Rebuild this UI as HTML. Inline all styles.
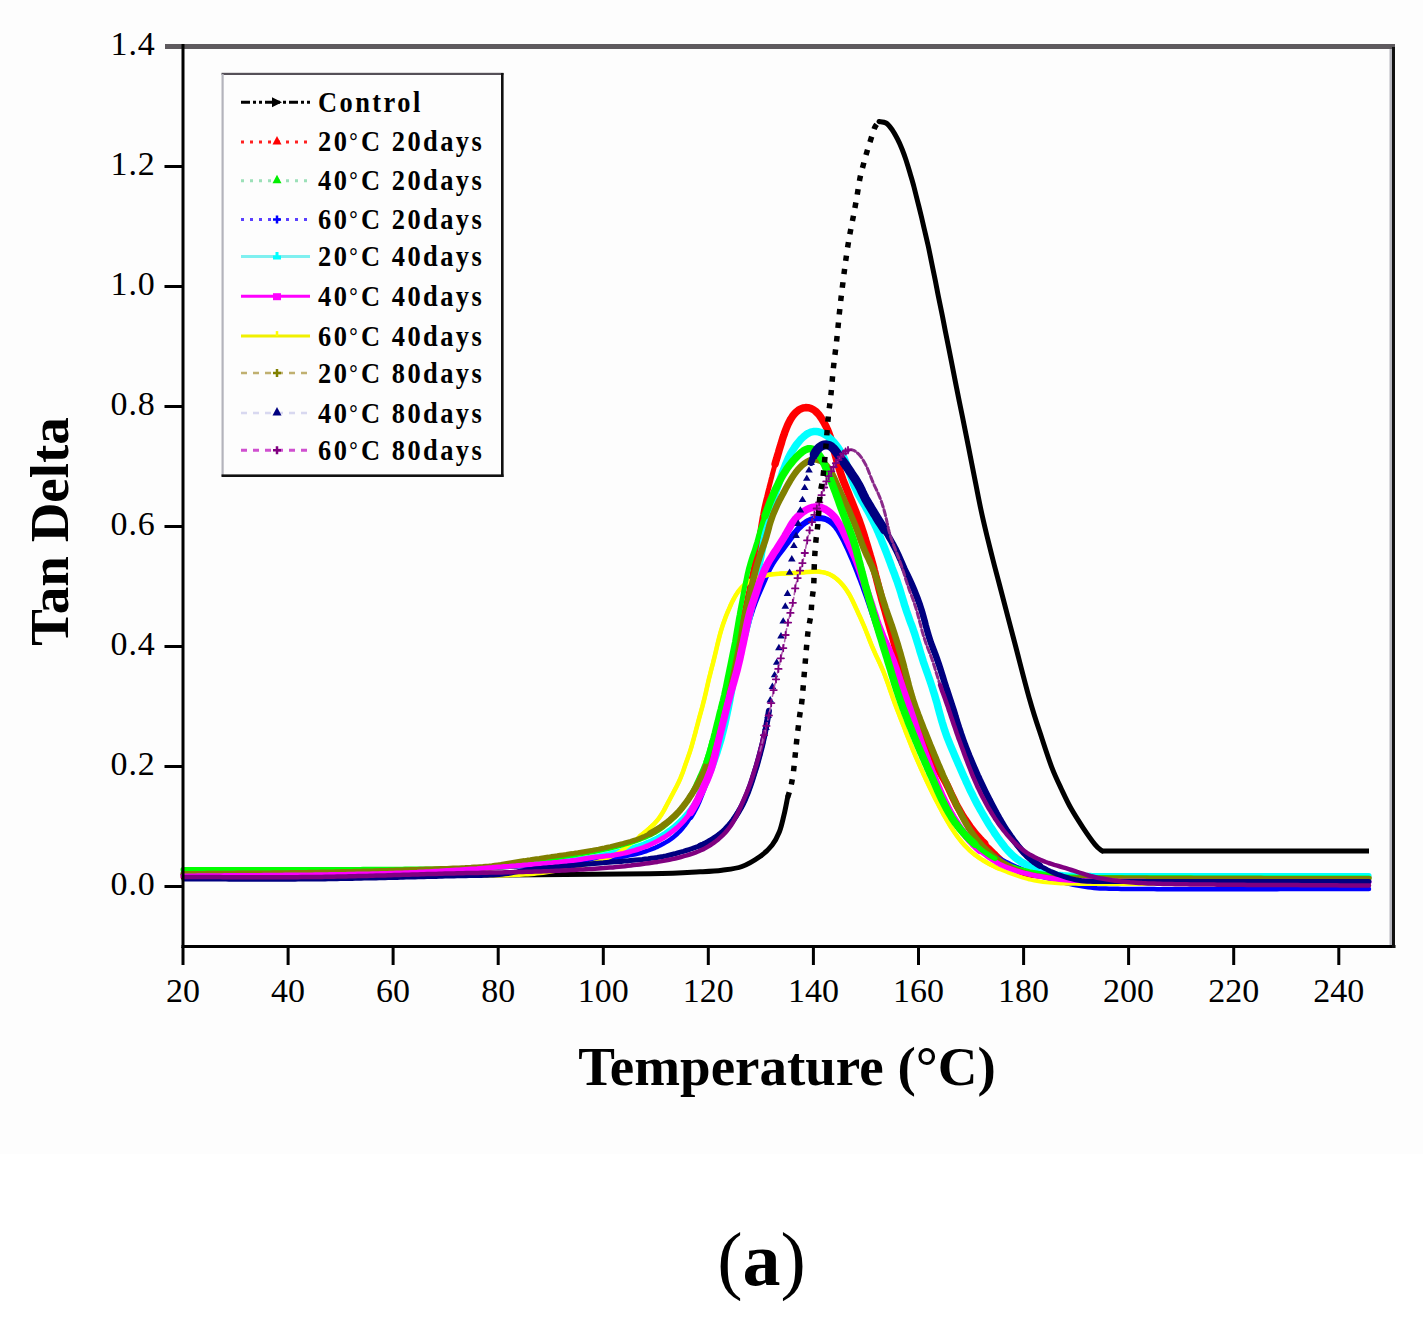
<!DOCTYPE html><html><head><meta charset="utf-8"><style>html,body{margin:0;padding:0;background:#fff}svg{display:block}</style></head><body>
<svg width="1423" height="1335" viewBox="0 0 1423 1335">
<rect width="1423" height="1335" fill="#fff"/>
<rect x="0" y="0" width="1423" height="1154" fill="#fdfdfd"/>

<g fill="none" stroke-linejoin="round" stroke-linecap="round" stroke-width="5.0">
<path d="M183.0,875.0 C235.8,875.0 422.2,875.2 500.0,875.0 C577.8,874.8 616.7,874.3 650.0,873.8 C683.3,873.3 688.0,872.4 700.0,871.8 C712.0,871.2 715.0,871.1 722.0,870.2 C729.0,869.3 735.7,868.8 742.0,866.5 C748.3,864.2 755.0,860.0 760.0,856.5 C765.0,853.0 768.8,849.4 772.0,845.3 C775.2,841.2 777.4,836.8 779.4,831.8 C781.4,826.8 782.5,821.1 783.9,815.4 C785.3,809.7 787.0,800.4 787.6,797.4" stroke="#000" stroke-width="5"/>
<polyline points="183.0,877.0 186.0,877.0 189.0,876.9 192.0,876.9 195.0,876.8 198.0,876.8 201.0,876.7 204.0,876.7 207.0,876.7 210.0,876.6 213.0,876.6 216.0,876.5 219.0,876.5 222.0,876.5 225.0,876.4 228.0,876.4 231.0,876.4 234.0,876.3 237.0,876.3 240.0,876.2 243.0,876.2 246.0,876.2 249.0,876.1 252.0,876.1 255.0,876.0 258.0,876.0 261.0,876.0 264.0,875.9 267.0,875.9 270.0,875.8 273.0,875.8 276.0,875.8 279.0,875.7 282.0,875.7 285.0,875.6 288.0,875.6 291.0,875.5 294.0,875.5 297.0,875.5 300.0,875.4 303.0,875.4 306.0,875.3 309.0,875.3 312.0,875.2 315.0,875.2 318.0,875.1 321.0,875.0 324.0,875.0 327.0,874.9 330.0,874.9 333.0,874.8 336.0,874.8 339.0,874.7 342.0,874.6 345.0,874.6 348.0,874.5 351.0,874.4 354.0,874.4 357.0,874.3 360.0,874.2 363.0,874.1 366.0,874.1 369.0,874.0 372.0,873.9 375.0,873.8 378.0,873.7 381.0,873.6 384.0,873.5 387.0,873.4 390.0,873.3 393.0,873.2 396.0,873.1 399.0,873.0 402.0,872.9 405.0,872.8 408.0,872.6 411.0,872.5 414.0,872.4 417.0,872.2 420.0,872.1 423.0,872.0 426.0,871.8 429.0,871.7 432.0,871.5 435.0,871.3 438.0,871.2 441.0,871.0 444.0,870.8 447.0,870.7 450.0,870.5 453.0,870.3 456.0,870.1 459.0,869.9 461.9,869.8 464.9,869.6 467.9,869.4 470.9,869.2 473.9,869.0 476.9,868.8 479.9,868.6 482.9,868.4 485.9,868.1 488.9,867.9 491.9,867.7 494.9,867.5 497.9,867.3 500.9,867.0 503.9,866.8 506.8,866.6 509.8,866.3 512.8,866.1 515.8,865.9 518.8,865.6 521.8,865.4 524.8,865.1 527.8,864.9 530.8,864.6 533.8,864.4 536.8,864.1 539.7,863.8 542.7,863.6 545.7,863.3 548.7,863.0 551.7,862.8 554.7,862.5 557.7,862.2 560.7,861.9 563.6,861.6 566.6,861.3 569.6,861.0 572.6,860.6 575.6,860.3 578.5,859.9 581.5,859.5 584.5,859.1 587.5,858.6 590.4,858.1 593.4,857.6 596.3,857.1 599.3,856.5 602.2,855.9 605.1,855.3 608.1,854.7 611.0,854.0 613.9,853.4 616.9,852.7 619.8,852.1 622.7,851.4 625.6,850.7 628.6,850.0 631.5,849.3 634.3,848.5 637.2,847.6 640.1,846.7 642.9,845.7 645.7,844.6 648.4,843.4 651.2,842.2 653.9,840.9 656.5,839.6 659.2,838.2 661.8,836.7 664.4,835.2 666.9,833.6 669.4,831.9 671.8,830.2 674.2,828.4 676.5,826.5 678.7,824.5 680.9,822.4 683.0,820.3 684.9,818.0 686.8,815.7 688.6,813.3 690.3,810.9 691.9,808.4 693.5,805.8 695.0,803.2 696.3,800.6 697.6,797.9 698.9,795.1 700.0,792.4 701.0,789.6 702.0,786.7 702.9,783.9 703.8,781.0 704.7,778.1 705.5,775.3 706.3,772.4 707.1,769.5 707.9,766.6 708.6,763.7 709.4,760.8 710.1,757.9 710.8,754.9 711.6,752.0 712.3,749.1 713.0,746.2 713.6,743.3 714.3,740.4 715.0,737.4 715.7,734.5 716.4,731.6 717.1,728.7 717.8,725.8 718.5,722.8 719.2,719.9 719.9,717.0 720.6,714.1 721.3,711.2 722.0,708.3 722.7,705.3 723.4,702.4 724.1,699.5 724.8,696.6 725.5,693.7 726.2,690.7 726.9,687.8 727.6,684.9 728.3,682.0 729.0,679.1 729.7,676.2 730.4,673.2 731.1,670.3 731.8,667.4 732.5,664.5 733.1,661.5 733.8,658.6 734.5,655.7 735.1,652.8 735.8,649.8 736.5,646.9 737.1,644.0 737.8,641.1 738.4,638.1 739.1,635.2 739.7,632.3 740.4,629.3 741.0,626.4 741.7,623.5 742.3,620.6 743.0,617.6 743.6,614.7 744.2,611.8 744.9,608.8 745.5,605.9 746.1,603.0 746.8,600.0 747.4,597.1 748.0,594.2 748.7,591.2 749.3,588.3 749.9,585.3 750.5,582.4 751.1,579.5 751.7,576.5 752.3,573.6 752.9,570.6 753.5,567.7 754.1,564.8 754.6,561.8 755.2,558.9 755.7,555.9 756.2,553.0 756.7,550.0 757.3,547.0 757.7,544.1 758.2,541.1 758.7,538.2 759.2,535.2 759.7,532.2 760.2,529.3 760.6,526.3 761.1,523.3 761.6,520.4 762.1,517.4 762.7,514.5 763.2,511.5 763.8,508.6 764.4,505.7 765.1,502.7 765.8,499.8 766.6,496.9 767.3,494.0 768.0,491.1 768.8,488.2 769.5,485.3 770.3,482.4 771.0,479.5 771.8,476.6 772.5,473.7 773.3,470.8 774.1,467.9 774.9,465.0 775.7,462.1 776.5,459.2 777.3,456.3 778.2,453.4 779.0,450.6 779.9,447.7 780.8,444.8 781.6,442.0 782.5,439.1 783.5,436.2 784.4,433.4 785.4,430.6 786.5,427.8 787.7,425.0 789.0,422.4 790.3,419.7 791.9,417.2 793.6,414.9 795.4,412.7 797.5,410.8 799.8,409.3 802.2,408.2 804.7,407.6 807.3,407.6 809.9,408.0 812.3,409.0 814.6,410.5 816.7,412.3 818.6,414.4 820.4,416.7 822.0,419.1 823.6,421.7 825.0,424.3 826.3,427.0 827.5,429.7 828.6,432.4 829.7,435.2 830.6,438.1 831.4,441.0 832.3,443.8 833.1,446.7 833.9,449.6 834.7,452.5 835.5,455.4 836.2,458.3 837.0,461.2 837.9,464.1 838.7,467.0 839.6,469.8 840.5,472.7 841.5,475.5 842.5,478.3 843.5,481.1 844.6,483.9 845.7,486.7 846.9,489.5 848.0,492.3 849.1,495.1 850.3,497.8 851.4,500.6 852.5,503.4 853.7,506.2 854.8,509.0 855.9,511.8 857.0,514.6 858.0,517.4 859.1,520.2 860.1,523.0 861.1,525.8 862.0,528.7 862.9,531.5 863.9,534.4 864.8,537.2 865.6,540.1 866.5,543.0 867.4,545.9 868.3,548.7 869.1,551.6 870.0,554.5 870.8,557.4 871.6,560.2 872.4,563.1 873.2,566.0 874.0,568.9 874.7,571.8 875.5,574.7 876.2,577.7 877.0,580.6 877.7,583.5 878.5,586.4 879.2,589.3 879.9,592.2 880.7,595.1 881.5,598.0 882.3,600.9 883.1,603.8 883.9,606.7 884.7,609.6 885.5,612.4 886.3,615.3 887.2,618.2 888.0,621.1 888.8,624.0 889.7,626.9 890.5,629.7 891.3,632.6 892.1,635.5 892.9,638.4 893.7,641.3 894.5,644.2 895.3,647.1 896.0,650.0 896.8,652.9 897.6,655.8 898.4,658.7 899.1,661.6 899.9,664.5 900.7,667.4 901.4,670.3 902.2,673.2 903.0,676.1 903.8,679.0 904.6,681.9 905.4,684.8 906.1,687.7 906.9,690.6 907.7,693.5 908.5,696.4 909.3,699.3 910.2,702.1 911.0,705.0 911.9,707.9 912.7,710.8 913.7,713.6 914.6,716.5 915.6,719.3 916.6,722.1 917.6,725.0 918.6,727.8 919.7,730.6 920.8,733.4 921.9,736.2 923.0,738.9 924.2,741.7 925.3,744.5 926.5,747.2 927.8,749.9 929.1,752.7 930.4,755.3 931.8,758.0 933.2,760.7 934.6,763.3 936.1,765.9 937.6,768.5 939.2,771.0 940.7,773.6 942.2,776.2 943.7,778.8 945.1,781.5 946.5,784.1 947.8,786.8 949.2,789.5 950.4,792.2 951.7,794.9 953.0,797.6 954.3,800.3 955.6,803.0 957.0,805.7 958.4,808.3 959.9,810.9 961.4,813.5 963.0,816.1 964.6,818.6 966.2,821.1 967.9,823.6 969.6,826.1 971.4,828.5 973.2,830.9 975.0,833.2 977.0,835.5 979.0,837.7 981.0,839.9 983.2,842.0 985.3,844.0 987.5,846.1 989.7,848.1 991.9,850.2 994.0,852.3 996.2,854.4 998.3,856.5 1000.5,858.5 1002.7,860.5 1005.0,862.5 1007.2,864.4 1009.6,866.2 1012.0,867.8 1014.4,869.3 1016.8,870.7 1019.2,871.9 1021.6,873.0 1024.1,873.9 1026.7,874.6 1029.4,875.1 1032.1,875.5 1035.0,875.8 1038.0,876.0 1040.9,876.1 1043.9,876.2 1046.9,876.2 1049.9,876.3 1052.9,876.4 1055.9,876.4 1058.9,876.5 1061.9,876.5 1064.9,876.5 1067.9,876.6 1070.9,876.6 1073.9,876.6 1076.9,876.7 1079.9,876.7 1082.9,876.7 1085.9,876.7 1088.9,876.8 1091.9,876.8 1094.9,876.8 1097.9,876.8 1100.9,876.8 1103.9,876.8 1106.9,876.8 1109.9,876.9 1112.9,876.9 1115.9,876.9 1118.9,876.9 1121.9,876.9 1124.9,876.9 1127.9,876.9 1130.9,876.9 1133.9,876.9 1136.9,876.9 1139.9,877.0 1142.9,877.0 1145.9,877.0 1148.9,877.0 1151.9,877.0 1154.9,877.0 1157.9,877.0 1160.9,877.0 1163.9,877.0 1166.9,877.0 1169.9,877.0 1172.9,877.0 1175.9,877.0 1178.9,877.0 1181.9,877.0 1184.9,877.0 1188.0,877.0 1191.0,877.0 1194.0,877.0 1197.0,877.0 1200.0,877.0 1203.0,877.0 1206.0,877.0 1209.0,877.0 1212.0,877.0 1215.0,877.0 1218.0,877.0 1221.0,877.0 1224.0,877.0 1227.0,877.0 1230.0,877.0 1233.0,877.0 1236.0,877.0 1239.0,877.0 1242.0,877.0 1245.0,877.0 1248.0,877.0 1251.0,877.0 1254.0,877.0 1257.0,877.0 1260.0,877.0 1263.0,877.0 1266.0,877.0 1269.0,877.0 1272.0,877.0 1275.0,877.0 1278.0,877.0 1281.0,877.0 1284.0,877.0 1287.0,877.0 1290.0,877.0 1293.0,877.0 1296.0,877.0 1299.0,877.0 1302.0,877.0 1305.0,877.0 1308.0,877.0 1311.0,877.0 1314.0,877.0 1317.0,877.0 1320.0,877.0 1323.0,877.0 1326.0,877.0 1329.0,877.0 1332.0,877.0 1335.0,877.0 1338.0,877.0 1341.0,877.0 1344.0,877.0 1347.0,877.0 1350.0,877.0 1353.0,877.0 1356.0,877.0 1359.0,877.0 1362.0,877.0 1365.0,877.0 1368.0,877.0 1369.0,877.0" fill="none" stroke="#ff0000" stroke-width="5.0"/>
<polyline points="775.1,464.0 775.9,461.1 776.8,458.2 777.6,455.4 778.5,452.5 779.3,449.6 780.2,446.7 781.1,443.9 781.9,441.0 782.8,438.1 783.8,435.3 784.7,432.5 785.8,429.6 786.9,426.9 788.1,424.1 789.4,421.5 790.8,418.9 792.4,416.4 794.2,414.1 796.1,412.1 798.3,410.3 800.6,408.9 803.0,408.0 805.6,407.6 808.2,407.7 810.7,408.3 813.1,409.5 815.3,411.0 817.3,413.0 819.2,415.1 820.9,417.5 822.5,420.0 824.0,422.5 825.4,425.2 826.7,427.9 827.9,430.6 829.0,433.4 830.0,436.2 830.9,439.0 831.7,441.9 832.5,444.8 833.4,447.7 834.1,450.6 834.9,453.5 835.7,456.4 836.5,459.3 837.3,462.2 838.1,465.0 839.0,467.9 839.9,470.8 840.8,473.6 841.8,476.5 842.8,479.3 843.9,482.1 845.0,484.9 846.1,487.7 847.2,490.4 848.4,493.2 849.5,496.0 850.6,498.8 851.8,501.5 852.9,504.3 854.0,507.1 855.1,509.9 856.2,512.7 857.3,515.5 858.4,518.3 859.4,521.1 860.4,523.9 861.4,526.8 862.3,529.6 863.3,532.5 864.2,535.3 865.0,538.2 865.9,541.1 866.8,543.9 867.7,546.8 868.5,549.7 869.4,552.6 870.2,555.4 871.1,558.3 871.9,561.2 872.7,564.1 873.5,567.0 874.2,569.9 875.0,572.8 875.7,575.7 876.5,578.6 877.2,581.5 878.0,584.4 878.7,587.3 879.4,590.3 880.2,593.2 881.0,596.1 881.7,599.0 882.5,601.9 883.3,604.7 884.1,607.6 885.0,610.5 885.8,613.4 886.6,616.3 887.4,619.2 888.3,622.1 889.1,624.9 889.9,627.8 890.7,630.7 891.6,633.6 892.4,636.5 893.2,639.4 894.0,642.3 894.8,645.2 895.5,648.1 896.3,651.0 897.1,653.9 897.8,656.8 898.6,659.7 899.4,662.6 900.2,665.5 900.9,668.4 901.7,671.3 902.5,674.2 903.3,677.1 904.1,680.0 904.8,682.9 905.6,685.8 906.4,688.6 907.2,691.5 908.0,694.4 908.8,697.3 909.6,700.2 910.4,703.1 911.3,706.0 912.2,708.8 913.0,711.7 914.0,714.6 914.9,717.4 915.9,720.3 916.9,723.1 917.9,725.9 919.0,728.7 920.0,731.5 921.1,734.3 922.2,737.1 923.4,739.9 924.5,742.6 925.7,745.4 927.0,748.1 928.2,750.8 929.5,753.6 930.8,756.2 932.2,758.9 933.6,761.5 935.1,764.1 936.6,766.7 938.1,769.3 939.7,771.9 941.2,774.5 942.7,777.1 944.2,779.7 945.6,782.3 947.0,785.0 948.3,787.7 949.6,790.4 950.8,793.1 952.1,795.8 953.4,798.5 954.7,801.2 956.0,803.9 957.4,806.6 958.9,809.2 960.4,811.8 961.9,814.4 963.5,816.9 965.1,819.4 966.8,821.9 968.5,824.4 970.2,826.9 972.0,829.3 973.8,831.6 975.7,834.0 977.6,836.2 979.7,838.4 981.7,840.6 983.9,842.7 984.6,843.4" fill="none" stroke="#ff0000" stroke-width="7.5"/>
<polyline points="183.0,872.0 186.0,872.0 189.0,872.0 192.0,872.0 195.0,872.1 198.0,872.1 201.0,872.1 204.0,872.1 207.0,872.1 210.0,872.1 213.0,872.0 216.0,872.0 219.0,872.0 222.0,872.0 225.0,872.0 228.0,872.0 231.0,872.0 234.0,872.0 237.0,872.0 240.0,872.0 243.0,872.0 246.0,872.0 249.0,872.0 252.0,872.0 255.0,872.0 258.0,872.0 261.0,872.0 264.0,872.0 267.0,872.0 270.0,872.0 273.0,872.0 276.0,872.0 279.0,872.0 282.0,872.0 285.0,872.0 288.0,872.0 291.0,872.0 294.0,872.0 297.0,871.9 300.0,871.9 303.0,871.9 306.0,871.9 309.0,871.9 312.0,871.9 315.0,871.9 318.0,871.9 321.0,871.9 324.0,871.9 327.0,871.9 330.0,871.9 333.0,871.8 336.0,871.8 339.0,871.8 342.0,871.8 345.0,871.8 348.0,871.7 351.0,871.7 354.0,871.7 357.0,871.7 360.0,871.6 363.0,871.6 366.0,871.6 369.0,871.5 372.0,871.5 375.0,871.5 378.0,871.4 381.0,871.4 384.0,871.3 387.0,871.3 390.0,871.2 393.0,871.1 396.0,871.1 399.0,871.0 402.0,870.9 405.0,870.9 408.0,870.8 411.0,870.7 414.0,870.6 417.0,870.5 420.0,870.4 423.0,870.3 426.0,870.3 429.0,870.2 432.0,870.1 435.0,870.0 438.0,869.8 441.0,869.7 444.0,869.6 447.0,869.5 450.0,869.4 453.0,869.3 456.0,869.2 459.0,869.1 462.0,868.9 465.0,868.8 468.0,868.7 471.0,868.6 474.0,868.4 477.0,868.3 480.0,868.2 483.0,868.1 486.0,867.9 489.0,867.8 492.0,867.6 495.0,867.5 498.0,867.4 501.0,867.2 504.0,867.1 507.0,866.9 510.0,866.8 513.0,866.6 516.0,866.5 519.0,866.3 521.9,866.2 524.9,866.0 527.9,865.8 530.9,865.7 533.9,865.5 536.9,865.4 539.9,865.2 542.9,865.0 545.9,864.8 548.9,864.7 551.9,864.5 554.9,864.3 557.9,864.1 560.9,863.9 563.9,863.7 566.9,863.5 569.9,863.3 572.9,863.0 575.8,862.8 578.8,862.5 581.8,862.2 584.8,861.9 587.8,861.6 590.8,861.3 593.7,860.9 596.7,860.5 599.7,860.1 602.7,859.7 605.6,859.2 608.6,858.8 611.6,858.3 614.5,857.9 617.5,857.4 620.5,856.9 623.4,856.5 626.4,856.0 629.3,855.4 632.3,854.9 635.2,854.2 638.1,853.5 641.0,852.8 643.9,851.9 646.7,851.0 649.5,850.0 652.3,848.9 655.1,847.8 657.8,846.6 660.5,845.2 663.2,843.8 665.7,842.4 668.3,840.8 670.8,839.1 673.1,837.4 675.4,835.5 677.6,833.5 679.7,831.4 681.7,829.2 683.6,826.9 685.5,824.5 687.2,822.1 688.9,819.6 690.5,817.1 692.0,814.5 693.5,811.9 694.9,809.3 696.3,806.6 697.6,803.9 698.8,801.2 699.9,798.4 701.0,795.6 702.1,792.8 703.2,790.0 704.2,787.2 705.2,784.4 706.2,781.5 707.2,778.7 708.2,775.9 709.2,773.0 710.2,770.2 711.1,767.3 712.0,764.5 712.9,761.6 713.8,758.8 714.6,755.9 715.5,753.0 716.3,750.1 717.0,747.2 717.8,744.3 718.5,741.4 719.3,738.5 720.0,735.6 720.7,732.7 721.4,729.7 722.1,726.8 722.8,723.9 723.5,721.0 724.3,718.1 725.0,715.2 725.7,712.3 726.4,709.3 727.1,706.4 727.9,703.5 728.6,700.6 729.3,697.7 730.1,694.8 730.8,691.9 731.5,689.0 732.2,686.1 733.0,683.1 733.7,680.2 734.4,677.3 735.1,674.4 735.9,671.5 736.6,668.6 737.3,665.7 738.0,662.8 738.8,659.9 739.5,656.9 740.2,654.0 740.9,651.1 741.7,648.2 742.4,645.3 743.1,642.4 743.9,639.5 744.6,636.6 745.4,633.7 746.1,630.8 746.9,627.9 747.7,625.0 748.5,622.1 749.3,619.2 750.2,616.3 751.1,613.5 752.0,610.6 752.9,607.8 754.0,604.9 755.0,602.1 756.1,599.3 757.2,596.6 758.4,593.8 759.6,591.1 760.8,588.3 762.0,585.6 763.2,582.8 764.4,580.1 765.5,577.3 766.7,574.6 767.9,571.8 769.2,569.2 770.6,566.5 772.1,563.9 773.7,561.4 775.3,558.9 777.0,556.5 778.8,554.0 780.6,551.6 782.4,549.3 784.2,546.9 786.0,544.5 787.8,542.1 789.6,539.7 791.4,537.3 793.2,534.9 795.0,532.6 796.9,530.3 798.9,528.1 801.1,526.0 803.3,524.1 805.7,522.4 808.2,520.9 810.8,519.7 813.4,518.8 816.2,518.2 819.0,518.0 821.8,518.2 824.5,518.8 827.1,519.8 829.5,521.1 831.8,522.8 833.9,524.7 835.8,526.9 837.5,529.2 839.1,531.7 840.6,534.3 842.1,536.9 843.5,539.5 844.8,542.2 846.1,544.9 847.4,547.6 848.6,550.4 849.8,553.1 851.0,555.9 852.2,558.6 853.4,561.4 854.5,564.2 855.6,566.9 856.7,569.7 857.8,572.5 858.9,575.3 860.0,578.1 861.1,580.9 862.1,583.7 863.2,586.5 864.2,589.4 865.2,592.2 866.2,595.0 867.2,597.8 868.2,600.7 869.2,603.5 870.1,606.4 871.1,609.2 872.0,612.0 873.0,614.9 873.9,617.7 874.9,620.6 875.8,623.4 876.8,626.3 877.8,629.1 878.7,632.0 879.7,634.8 880.7,637.6 881.7,640.5 882.7,643.3 883.7,646.1 884.7,649.0 885.7,651.8 886.7,654.6 887.7,657.4 888.7,660.2 889.8,663.1 890.8,665.9 891.8,668.7 892.9,671.5 893.9,674.3 894.9,677.1 896.0,680.0 897.0,682.8 898.1,685.6 899.1,688.4 900.2,691.2 901.2,694.0 902.3,696.8 903.3,699.6 904.4,702.4 905.4,705.2 906.5,708.1 907.6,710.9 908.6,713.7 909.7,716.5 910.8,719.3 911.9,722.1 913.0,724.9 914.0,727.7 915.1,730.5 916.2,733.3 917.3,736.0 918.4,738.8 919.5,741.6 920.6,744.4 921.7,747.2 922.8,750.0 923.9,752.8 925.0,755.6 926.1,758.4 927.2,761.2 928.3,764.0 929.4,766.7 930.5,769.5 931.7,772.3 932.8,775.1 934.0,777.8 935.2,780.6 936.4,783.4 937.6,786.1 938.8,788.8 940.1,791.5 941.4,794.3 942.7,797.0 944.0,799.7 945.3,802.3 946.7,805.0 948.1,807.7 949.5,810.3 950.9,812.9 952.4,815.6 953.9,818.2 955.4,820.8 956.9,823.4 958.5,825.9 960.1,828.4 961.8,830.8 963.6,833.2 965.5,835.5 967.6,837.6 969.7,839.7 972.0,841.6 974.4,843.4 976.8,845.1 979.3,846.8 981.8,848.4 984.4,849.9 987.0,851.5 989.6,853.0 992.1,854.5 994.8,856.0 997.4,857.4 1000.0,858.8 1002.7,860.2 1005.3,861.6 1008.0,862.9 1010.7,864.2 1013.5,865.5 1016.2,866.7 1018.9,867.9 1021.7,869.1 1024.5,870.2 1027.3,871.3 1030.1,872.4 1032.9,873.4 1035.7,874.4 1038.5,875.4 1041.4,876.3 1044.2,877.3 1047.1,878.1 1050.0,879.0 1052.9,879.8 1055.8,880.6 1058.7,881.4 1061.6,882.1 1064.5,882.9 1067.4,883.5 1070.3,884.1 1073.3,884.7 1076.2,885.3 1079.2,885.8 1082.1,886.3 1085.1,886.8 1088.1,887.2 1091.0,887.6 1094.0,887.9 1097.0,888.2 1100.0,888.4 1103.0,888.5 1106.0,888.6 1109.0,888.7 1112.0,888.7 1115.0,888.8 1118.0,888.8 1121.0,888.9 1124.0,888.9 1127.0,889.0 1130.0,889.0 1133.0,889.0 1136.0,889.0 1139.0,889.1 1142.0,889.1 1145.0,889.1 1148.0,889.1 1151.0,889.1 1154.0,889.1 1157.0,889.2 1160.0,889.2 1163.0,889.2 1166.0,889.2 1169.0,889.2 1172.0,889.2 1175.0,889.2 1178.0,889.2 1181.0,889.2 1184.0,889.2 1187.0,889.2 1190.0,889.2 1193.0,889.2 1196.0,889.2 1199.0,889.2 1202.0,889.2 1205.0,889.2 1208.0,889.2 1211.0,889.2 1214.0,889.2 1217.0,889.2 1220.0,889.2 1223.0,889.2 1226.0,889.2 1229.0,889.2 1232.0,889.2 1235.0,889.2 1238.0,889.2 1241.0,889.2 1244.0,889.2 1247.0,889.2 1250.0,889.2 1253.0,889.2 1256.0,889.2 1259.0,889.2 1262.0,889.2 1265.0,889.2 1268.0,889.2 1271.0,889.2 1274.0,889.2 1277.0,889.2 1280.0,889.1 1283.0,889.1 1286.0,889.1 1289.0,889.1 1292.0,889.1 1295.0,889.1 1298.0,889.1 1301.0,889.1 1304.0,889.1 1307.0,889.1 1310.0,889.1 1313.0,889.1 1316.0,889.1 1319.0,889.1 1322.0,889.1 1325.0,889.1 1328.0,889.1 1331.0,889.1 1334.0,889.0 1337.0,889.0 1340.0,889.0 1343.0,889.0 1346.0,889.0 1349.0,889.0 1352.0,889.0 1355.0,889.0 1358.0,889.0 1361.0,889.0 1364.0,889.0 1367.0,889.0 1369.0,889.0" fill="none" stroke="#0000ff" stroke-width="4.5"/>
<polyline points="690.5,817.1 692.0,814.5 693.5,811.9 694.9,809.3 696.3,806.6 697.6,803.9 698.8,801.2 699.9,798.4 701.0,795.6 702.1,792.8 703.2,790.0 704.2,787.2 705.2,784.4 706.2,781.5 707.2,778.7 708.2,775.9 709.2,773.0 710.2,770.2 711.1,767.3 712.0,764.5 712.9,761.6 713.8,758.8 714.6,755.9 715.5,753.0 716.3,750.1 717.0,747.2 717.8,744.3 718.5,741.4 719.3,738.5 720.0,735.6 720.7,732.7 721.4,729.7 722.1,726.8 722.8,723.9 723.5,721.0 724.3,718.1 725.0,715.2 725.7,712.3 726.4,709.3 727.1,706.4 727.9,703.5 728.6,700.6 729.3,697.7 730.1,694.8 730.8,691.9 731.5,689.0 732.2,686.1 733.0,683.1 733.7,680.2 734.4,677.3 735.1,674.4 735.9,671.5 736.6,668.6 737.3,665.7 738.0,662.8 738.8,659.9 739.5,656.9 740.2,654.0 740.9,651.1 741.7,648.2 742.4,645.3 743.1,642.4 743.9,639.5 744.6,636.6 745.4,633.7 746.1,630.8 746.9,627.9 747.7,625.0 748.5,622.1 749.3,619.2 750.2,616.3 751.1,613.5 752.0,610.6 752.9,607.8 754.0,604.9 755.0,602.1 756.1,599.3 757.2,596.6 758.4,593.8 759.6,591.1 760.8,588.3 762.0,585.6 763.2,582.8 764.4,580.1 765.5,577.3 766.7,574.6 767.9,571.8 769.2,569.2 770.6,566.5 772.1,563.9 773.7,561.4 775.3,558.9 777.0,556.5 778.8,554.0 780.6,551.6 782.4,549.3 784.2,546.9 786.0,544.5 787.8,542.1 789.6,539.7 791.4,537.3 793.2,534.9 795.0,532.6 796.9,530.3 798.9,528.1 801.1,526.0 803.3,524.1 805.7,522.4 808.2,520.9 810.8,519.7 813.4,518.8 816.2,518.2 819.0,518.0 821.8,518.2 824.5,518.8 827.1,519.8 829.5,521.1 831.8,522.8 833.9,524.7 835.8,526.9 837.5,529.2 839.1,531.7 840.6,534.3 842.1,536.9 843.5,539.5 844.8,542.2 846.1,544.9 847.4,547.6 848.6,550.4 849.8,553.1 851.0,555.9 852.2,558.6 853.4,561.4 854.5,564.2 855.6,566.9 856.7,569.7 857.8,572.5 858.9,575.3 860.0,578.1 861.1,580.9 862.1,583.7 863.2,586.5 864.2,589.4 865.2,592.2 866.2,595.0 867.2,597.8 868.2,600.7 869.2,603.5 870.1,606.4 871.1,609.2 872.0,612.0 873.0,614.9 873.9,617.7 874.9,620.6 875.8,623.4 876.8,626.3 877.8,629.1 878.7,632.0 879.7,634.8 880.7,637.6 881.7,640.5 882.7,643.3 883.7,646.1 884.7,649.0 885.7,651.8 886.7,654.6 887.7,657.4 888.7,660.2 889.8,663.1 890.8,665.9 891.8,668.7 892.9,671.5 893.9,674.3 894.9,677.1 896.0,680.0 897.0,682.8 898.1,685.6 899.1,688.4 900.2,691.2 901.2,694.0 902.3,696.8 903.3,699.6 904.4,702.4 905.4,705.2 906.5,708.1 907.6,710.9 908.6,713.7 909.7,716.5 910.8,719.3 911.9,722.1 913.0,724.9 914.0,727.7 915.1,730.5 916.2,733.3 917.3,736.0 918.4,738.8 919.5,741.6 920.6,744.4 921.7,747.2 922.8,750.0 923.9,752.8 925.0,755.6 926.1,758.4 927.2,761.2 928.3,764.0 929.4,766.7 930.5,769.5 931.7,772.3 932.8,775.1 934.0,777.8 935.2,780.6 936.4,783.4 937.6,786.1 938.8,788.8 940.1,791.5 941.4,794.3 942.7,797.0 944.0,799.7 945.3,802.3 946.7,805.0 948.1,807.7 949.5,810.3 950.9,812.9 952.4,815.6 953.9,818.2 955.4,820.8 956.9,823.4 958.5,825.9 959.5,827.6" fill="none" stroke="#0000ff" stroke-width="6.0"/>
<polyline points="183.7,874.0 186.7,874.0 189.7,874.0 192.7,873.9 195.7,873.9 198.7,873.9 201.7,873.9 204.7,873.9 207.7,873.9 210.7,873.9 213.7,873.9 216.7,873.9 219.7,873.9 222.7,873.9 225.7,873.8 228.7,873.8 231.7,873.8 234.7,873.8 237.7,873.8 240.7,873.8 243.7,873.8 246.7,873.8 249.7,873.8 252.7,873.8 255.7,873.8 258.7,873.8 261.7,873.8 264.7,873.8 267.7,873.7 270.7,873.7 273.7,873.7 276.7,873.7 279.7,873.7 282.7,873.7 285.7,873.7 288.7,873.7 291.7,873.6 294.7,873.6 297.7,873.6 300.7,873.6 303.7,873.6 306.7,873.5 309.7,873.5 312.7,873.5 315.7,873.5 318.7,873.5 321.7,873.4 324.7,873.4 327.7,873.4 330.7,873.3 333.7,873.3 336.7,873.3 339.7,873.2 342.7,873.2 345.7,873.2 348.7,873.1 351.7,873.1 354.7,873.0 357.7,873.0 360.7,872.9 363.7,872.9 366.7,872.8 369.7,872.8 372.7,872.7 375.7,872.7 378.7,872.6 381.7,872.5 384.7,872.4 387.7,872.4 390.7,872.3 393.7,872.2 396.7,872.1 399.7,872.0 402.7,871.9 405.7,871.8 408.7,871.7 411.7,871.6 414.7,871.4 417.7,871.3 420.7,871.2 423.7,871.1 426.7,870.9 429.7,870.8 432.7,870.6 435.7,870.5 438.7,870.3 441.7,870.2 444.7,870.0 447.7,869.8 450.7,869.7 453.7,869.5 456.7,869.3 459.7,869.1 462.7,868.9 465.7,868.8 468.7,868.6 471.7,868.4 474.7,868.2 477.7,868.0 480.6,867.8 483.6,867.6 486.6,867.3 489.6,867.1 492.6,866.9 495.6,866.7 498.6,866.5 501.6,866.2 504.6,866.0 507.6,865.8 510.6,865.5 513.6,865.3 516.6,865.0 519.5,864.8 522.5,864.5 525.5,864.3 528.5,864.0 531.5,863.8 534.5,863.5 537.5,863.2 540.5,863.0 543.5,862.7 546.4,862.4 549.4,862.1 552.4,861.8 555.4,861.6 558.4,861.3 561.4,861.0 564.4,860.6 567.3,860.3 570.3,860.0 573.3,859.6 576.3,859.3 579.3,858.9 582.2,858.5 585.2,858.1 588.2,857.6 591.1,857.2 594.1,856.7 597.0,856.1 600.0,855.5 602.9,854.9 605.9,854.3 608.8,853.7 611.7,853.0 614.6,852.3 617.5,851.6 620.5,850.9 623.4,850.1 626.3,849.4 629.2,848.6 632.0,847.8 634.9,846.9 637.8,846.0 640.6,845.0 643.4,844.0 646.2,842.9 649.0,841.7 651.7,840.5 654.4,839.2 657.1,837.9 659.7,836.4 662.3,834.9 664.8,833.3 667.3,831.6 669.7,829.9 672.1,828.1 674.4,826.2 676.7,824.2 678.9,822.2 681.0,820.1 683.1,818.0 685.1,815.8 687.1,813.5 689.0,811.2 690.8,808.8 692.5,806.4 694.2,803.9 695.8,801.4 697.4,798.8 698.8,796.2 700.3,793.6 701.6,790.9 702.9,788.2 704.2,785.5 705.4,782.7 706.6,780.0 707.7,777.2 708.8,774.4 709.9,771.6 711.0,768.8 712.1,766.0 713.1,763.2 714.1,760.4 715.1,757.6 716.1,754.7 717.1,751.9 718.0,749.0 718.9,746.2 719.7,743.3 720.6,740.4 721.4,737.5 722.1,734.6 722.9,731.7 723.6,728.8 724.3,725.9 725.0,723.0 725.6,720.0 726.3,717.1 726.9,714.2 727.5,711.2 728.2,708.3 728.7,705.4 729.3,702.4 729.9,699.5 730.4,696.5 731.0,693.6 731.5,690.6 732.0,687.7 732.6,684.7 733.1,681.7 733.7,678.8 734.3,675.9 734.9,672.9 735.5,670.0 736.2,667.1 736.9,664.2 737.6,661.2 738.4,658.3 739.1,655.4 739.9,652.5 740.7,649.6 741.5,646.7 742.3,643.9 743.1,641.0 743.8,638.1 744.6,635.2 745.4,632.3 746.1,629.3 746.8,626.4 747.5,623.5 748.2,620.6 748.9,617.7 749.6,614.8 750.2,611.8 750.8,608.9 751.4,605.9 751.9,603.0 752.4,600.0 752.9,597.1 753.3,594.1 753.8,591.1 754.2,588.2 754.7,585.2 755.2,582.3 755.8,579.3 756.4,576.4 757.1,573.5 757.8,570.6 758.5,567.6 759.1,564.7 759.7,561.8 760.4,558.8 761.0,555.9 761.5,553.0 762.1,550.0 762.7,547.1 763.2,544.1 763.7,541.2 764.2,538.2 764.7,535.2 765.2,532.3 765.6,529.3 766.1,526.3 766.5,523.4 767.0,520.4 767.6,517.5 768.2,514.6 768.9,511.7 769.7,508.8 770.6,505.9 771.6,503.1 772.6,500.3 773.7,497.5 774.8,494.8 775.8,491.9 776.8,489.1 777.8,486.3 778.8,483.5 779.7,480.6 780.7,477.8 781.7,474.9 782.6,472.1 783.7,469.3 784.8,466.5 785.9,463.7 787.1,461.0 788.3,458.2 789.6,455.6 791.1,452.9 792.6,450.4 794.2,447.9 795.9,445.4 797.7,443.1 799.6,440.8 801.6,438.6 803.7,436.6 805.9,434.8 808.3,433.3 810.7,432.2 813.3,431.6 816.0,431.5 818.6,431.8 821.2,432.6 823.7,433.8 826.1,435.3 828.5,437.1 830.7,439.0 832.8,441.1 834.8,443.3 836.6,445.6 838.4,448.0 840.0,450.5 841.5,453.1 842.9,455.7 844.2,458.4 845.3,461.1 846.4,463.9 847.4,466.7 848.4,469.6 849.4,472.4 850.4,475.3 851.4,478.1 852.4,480.9 853.4,483.7 854.6,486.5 855.8,489.2 857.1,491.9 858.4,494.6 859.9,497.2 861.3,499.8 862.8,502.4 864.4,505.0 865.9,507.6 867.3,510.2 868.8,512.8 870.2,515.5 871.6,518.1 873.0,520.8 874.3,523.5 875.5,526.2 876.8,528.9 878.0,531.7 879.1,534.5 880.3,537.2 881.4,540.0 882.5,542.8 883.6,545.6 884.7,548.4 885.8,551.2 886.9,554.0 888.0,556.8 889.0,559.6 890.1,562.4 891.1,565.2 892.1,568.0 893.2,570.8 894.3,573.6 895.3,576.4 896.4,579.3 897.4,582.1 898.3,584.9 899.3,587.8 900.2,590.6 901.1,593.5 901.9,596.4 902.8,599.2 903.7,602.1 904.5,605.0 905.5,607.8 906.4,610.7 907.4,613.5 908.4,616.3 909.4,619.2 910.4,622.0 911.5,624.8 912.5,627.6 913.5,630.4 914.5,633.3 915.4,636.1 916.3,639.0 917.2,641.8 918.1,644.7 919.0,647.6 919.8,650.5 920.7,653.3 921.6,656.2 922.5,659.0 923.4,661.9 924.4,664.7 925.4,667.6 926.4,670.4 927.4,673.2 928.4,676.1 929.4,678.9 930.3,681.7 931.3,684.6 932.2,687.4 933.1,690.3 934.0,693.2 934.9,696.0 935.7,698.9 936.6,701.8 937.4,704.7 938.1,707.6 938.9,710.5 939.7,713.4 940.5,716.3 941.3,719.2 942.1,722.0 943.0,724.9 943.9,727.8 944.8,730.6 945.8,733.4 946.8,736.3 947.9,739.1 949.0,741.9 950.1,744.6 951.3,747.4 952.5,750.2 953.6,752.9 954.8,755.7 956.0,758.5 957.2,761.2 958.4,764.0 959.6,766.7 960.8,769.5 962.0,772.2 963.2,775.0 964.4,777.7 965.7,780.4 966.9,783.2 968.2,785.9 969.4,788.6 970.7,791.3 972.1,794.0 973.4,796.7 974.8,799.4 976.1,802.0 977.5,804.7 979.0,807.3 980.4,809.9 981.9,812.5 983.4,815.1 984.9,817.7 986.5,820.3 988.0,822.9 989.6,825.4 991.2,827.9 992.9,830.4 994.5,833.0 996.2,835.4 997.9,837.9 999.7,840.3 1001.4,842.7 1003.3,845.1 1005.1,847.5 1007.1,849.7 1009.1,851.9 1011.2,854.0 1013.4,856.1 1015.7,858.0 1018.0,859.7 1020.5,861.4 1023.1,862.9 1025.7,864.3 1028.4,865.6 1031.1,866.8 1033.9,867.9 1036.7,868.9 1039.6,869.9 1042.4,870.8 1045.3,871.6 1048.2,872.3 1051.1,873.0 1054.0,873.5 1057.0,874.0 1060.0,874.3 1063.0,874.6 1065.9,874.8 1068.9,875.0 1071.9,875.1 1074.9,875.2 1077.9,875.3 1080.9,875.3 1083.9,875.3 1086.9,875.3 1089.9,875.3 1092.9,875.4 1095.9,875.4 1098.9,875.4 1101.9,875.4 1104.9,875.4 1107.9,875.4 1110.9,875.4 1113.9,875.4 1116.9,875.4 1119.9,875.4 1122.9,875.4 1125.9,875.4 1128.9,875.4 1131.9,875.4 1134.9,875.5 1137.9,875.5 1140.9,875.5 1143.9,875.5 1146.9,875.5 1149.9,875.5 1152.9,875.5 1155.9,875.5 1158.9,875.5 1161.9,875.5 1164.9,875.5 1167.9,875.5 1170.9,875.5 1173.9,875.5 1176.9,875.5 1179.9,875.5 1182.9,875.5 1186.0,875.5 1189.0,875.5 1192.0,875.5 1195.0,875.5 1198.0,875.5 1201.0,875.5 1204.0,875.5 1207.0,875.5 1210.0,875.5 1213.0,875.5 1216.0,875.5 1219.0,875.5 1222.0,875.5 1225.0,875.5 1228.0,875.5 1231.0,875.5 1234.0,875.5 1237.0,875.5 1240.0,875.5 1243.0,875.5 1246.0,875.5 1249.0,875.5 1252.0,875.5 1255.0,875.5 1258.0,875.5 1261.0,875.5 1264.0,875.5 1267.0,875.5 1270.0,875.5 1273.0,875.5 1276.0,875.5 1279.0,875.5 1282.0,875.5 1285.0,875.5 1288.0,875.5 1291.0,875.5 1294.0,875.5 1297.0,875.5 1300.0,875.5 1303.0,875.5 1306.0,875.5 1309.0,875.5 1312.0,875.5 1315.0,875.5 1318.0,875.5 1321.0,875.5 1324.0,875.5 1327.0,875.5 1330.0,875.5 1333.0,875.5 1336.0,875.5 1339.0,875.5 1342.0,875.5 1345.0,875.5 1348.0,875.5 1351.0,875.5 1354.0,875.5 1357.0,875.5 1360.0,875.5 1363.0,875.5 1366.0,875.5 1369.0,875.5" fill="none" stroke="#00ffff" stroke-width="5.0"/>
<polyline points="700.3,793.6 701.6,790.9 702.9,788.2 704.2,785.5 705.4,782.7 706.6,780.0 707.7,777.2 708.8,774.4 709.9,771.6 711.0,768.8 712.1,766.0 713.1,763.2 714.1,760.4 715.1,757.6 716.1,754.7 717.1,751.9 718.0,749.0 718.9,746.2 719.7,743.3 720.6,740.4 721.4,737.5 722.1,734.6 722.9,731.7 723.6,728.8 724.3,725.9 725.0,723.0 725.6,720.0 726.3,717.1 726.9,714.2 727.5,711.2 728.2,708.3 728.7,705.4 729.3,702.4 729.9,699.5 730.4,696.5 731.0,693.6 731.5,690.6 732.0,687.7 732.6,684.7 733.1,681.7 733.7,678.8 734.3,675.9 734.9,672.9 735.5,670.0 736.2,667.1 736.9,664.2 737.6,661.2 738.4,658.3 739.1,655.4 739.9,652.5 740.7,649.6 741.5,646.7 742.3,643.9 743.1,641.0 743.8,638.1 744.6,635.2 745.4,632.3 746.1,629.3 746.8,626.4 747.5,623.5 748.2,620.6 748.9,617.7 749.6,614.8 750.2,611.8 750.8,608.9 751.4,605.9 751.9,603.0 752.4,600.0 752.9,597.1 753.3,594.1 753.8,591.1 754.2,588.2 754.7,585.2 755.2,582.3 755.8,579.3 756.4,576.4 757.1,573.5 757.8,570.6 758.5,567.6 759.1,564.7 759.7,561.8 760.4,558.8 761.0,555.9 761.5,553.0 762.1,550.0 762.7,547.1 763.2,544.1 763.7,541.2 764.2,538.2 764.7,535.2 765.2,532.3 765.6,529.3 766.1,526.3 766.5,523.4 767.0,520.4 767.6,517.5 768.2,514.6 768.9,511.7 769.7,508.8 770.6,505.9 771.6,503.1 772.6,500.3 773.7,497.5 774.8,494.8 775.8,491.9 776.8,489.1 777.8,486.3 778.8,483.5 779.7,480.6 780.7,477.8 781.7,474.9 782.6,472.1 783.7,469.3 784.8,466.5 785.9,463.7 787.1,461.0 788.3,458.2 789.6,455.6 791.1,452.9 792.6,450.4 794.2,447.9 795.9,445.4 797.7,443.1 799.6,440.8 801.6,438.6 803.7,436.6 805.9,434.8 808.3,433.3 810.7,432.2 813.3,431.6 816.0,431.5 818.6,431.8 821.2,432.6 823.7,433.8 826.1,435.3 828.5,437.1 830.7,439.0 832.8,441.1 834.8,443.3 836.6,445.6 838.4,448.0 840.0,450.5 841.5,453.1 842.9,455.7 844.2,458.4 845.3,461.1 846.4,463.9 847.4,466.7 848.4,469.6 849.4,472.4 850.4,475.3 851.4,478.1 852.4,480.9 853.4,483.7 854.6,486.5 855.8,489.2 857.1,491.9 858.4,494.6 859.9,497.2 861.3,499.8 862.8,502.4 864.4,505.0 865.9,507.6 867.3,510.2 868.8,512.8 870.2,515.5 871.6,518.1 873.0,520.8 874.3,523.5 875.5,526.2 876.8,528.9 878.0,531.7 879.1,534.5 880.3,537.2 881.4,540.0 882.5,542.8 883.6,545.6 884.7,548.4 885.8,551.2 886.9,554.0 888.0,556.8 889.0,559.6 890.1,562.4 891.1,565.2 892.1,568.0 893.2,570.8 894.3,573.6 895.3,576.4 896.4,579.3 897.4,582.1 898.3,584.9 899.3,587.8 900.2,590.6 901.1,593.5 901.9,596.4 902.8,599.2 903.7,602.1 904.5,605.0 905.5,607.8 906.4,610.7 907.4,613.5 908.4,616.3 909.4,619.2 910.4,622.0 911.5,624.8 912.5,627.6 913.5,630.4 914.5,633.3 915.4,636.1 916.3,639.0 917.2,641.8 918.1,644.7 919.0,647.6 919.8,650.5 920.7,653.3 921.6,656.2 922.5,659.0 923.4,661.9 924.4,664.7 925.4,667.6 926.4,670.4 927.4,673.2 928.4,676.1 929.4,678.9 930.3,681.7 931.3,684.6 932.2,687.4 933.1,690.3 934.0,693.2 934.9,696.0 935.7,698.9 936.6,701.8 937.4,704.7 938.1,707.6 938.9,710.5 939.7,713.4 940.5,716.3 941.3,719.2 942.1,722.0 943.0,724.9 943.9,727.8 944.8,730.6 945.8,733.4 946.8,736.3 947.9,739.1 949.0,741.9 950.1,744.6 951.3,747.4 952.5,750.2 953.6,752.9 954.8,755.7 956.0,758.5 957.2,761.2 958.4,764.0 959.6,766.7 960.8,769.5 962.0,772.2 963.2,775.0 964.4,777.7 965.7,780.4 966.9,783.2 968.2,785.9 969.4,788.6 970.7,791.3 972.1,794.0 973.4,796.7 974.8,799.4 976.1,802.0 977.5,804.7 979.0,807.3 980.4,809.9 981.9,812.5 983.4,815.1 984.9,817.7 986.5,820.3 988.0,822.9 989.6,825.4 991.2,827.9 992.9,830.4 994.5,833.0 996.2,835.4 997.9,837.9 999.7,840.3 1001.4,842.7 1003.3,845.1 1005.1,847.5 1007.1,849.7 1009.1,851.9 1011.2,854.0 1013.4,856.1 1015.7,858.0 1018.0,859.7 1020.5,861.4 1023.1,862.9 1025.7,864.3 1028.4,865.6 1029.3,866.0" fill="none" stroke="#00ffff" stroke-width="7.5"/>
<polyline points="183.0,876.0 186.0,876.0 189.0,876.0 192.0,876.0 195.0,875.9 198.0,875.9 201.0,875.9 204.0,875.9 207.0,875.9 210.0,875.9 213.0,875.9 216.0,875.8 219.0,875.8 222.0,875.8 225.0,875.8 228.0,875.8 231.0,875.8 234.0,875.7 237.0,875.7 240.0,875.7 243.0,875.7 246.0,875.7 249.0,875.7 252.0,875.7 255.0,875.6 258.0,875.6 261.0,875.6 264.0,875.6 267.0,875.6 270.0,875.6 273.0,875.6 276.0,875.5 279.0,875.5 282.0,875.5 285.0,875.5 288.0,875.5 291.0,875.5 294.0,875.5 297.0,875.4 300.0,875.4 303.0,875.4 306.0,875.4 309.0,875.4 312.0,875.4 315.0,875.4 318.0,875.3 321.0,875.3 324.0,875.3 327.0,875.3 330.0,875.3 333.0,875.3 336.0,875.3 339.0,875.2 342.0,875.2 345.0,875.2 348.0,875.2 351.0,875.2 354.0,875.2 357.0,875.2 360.0,875.1 363.0,875.1 366.0,875.1 369.0,875.1 372.0,875.1 375.0,875.1 378.0,875.1 381.0,875.1 384.0,875.1 387.0,875.0 390.0,875.0 393.0,875.0 396.0,875.0 399.0,875.0 402.0,875.0 405.0,875.0 408.0,875.0 411.0,875.0 414.0,875.0 417.0,875.0 420.0,875.0 423.0,875.0 426.0,875.1 429.0,875.1 432.0,875.1 435.0,875.1 438.0,875.1 441.0,875.2 444.0,875.2 447.0,875.2 450.0,875.3 453.0,875.3 456.0,875.3 459.0,875.4 462.0,875.4 465.0,875.4 468.0,875.5 471.0,875.5 474.0,875.5 477.0,875.6 480.0,875.6 483.0,875.6 486.0,875.6 489.0,875.6 492.0,875.6 495.0,875.6 498.0,875.6 501.0,875.5 504.0,875.5 507.0,875.4 510.0,875.3 513.0,875.2 516.0,875.1 519.0,875.0 522.0,874.8 525.0,874.6 528.0,874.4 531.0,874.2 534.0,873.9 537.0,873.6 539.9,873.3 542.9,872.9 545.9,872.5 548.9,872.1 551.8,871.6 554.8,871.1 557.7,870.6 560.7,870.0 563.6,869.4 566.6,868.9 569.5,868.2 572.4,867.6 575.4,867.0 578.3,866.4 581.2,865.7 584.2,865.1 587.1,864.4 590.0,863.7 592.9,863.0 595.8,862.3 598.7,861.4 601.5,860.5 604.4,859.5 607.1,858.4 609.9,857.2 612.6,855.9 615.2,854.5 617.8,853.0 620.3,851.4 622.8,849.7 625.2,848.0 627.6,846.2 629.9,844.3 632.3,842.4 634.6,840.6 636.9,838.7 639.3,836.8 641.6,834.9 643.9,833.0 646.2,831.1 648.5,829.1 650.7,827.1 652.9,825.1 655.0,823.0 656.9,820.7 658.8,818.4 660.5,816.0 662.1,813.5 663.6,810.9 665.0,808.3 666.4,805.7 667.8,803.0 669.2,800.3 670.6,797.7 672.0,795.0 673.4,792.4 674.8,789.8 676.2,787.1 677.6,784.4 678.9,781.8 680.1,779.0 681.2,776.3 682.3,773.5 683.3,770.7 684.3,767.8 685.3,765.0 686.3,762.2 687.3,759.3 688.3,756.5 689.3,753.7 690.2,750.8 691.1,748.0 691.9,745.1 692.8,742.2 693.6,739.3 694.3,736.4 695.1,733.5 695.9,730.6 696.6,727.7 697.4,724.8 698.2,721.9 698.9,719.0 699.7,716.1 700.5,713.2 701.3,710.3 702.1,707.4 702.9,704.5 703.6,701.6 704.4,698.7 705.1,695.8 705.8,692.9 706.4,690.0 707.1,687.0 707.7,684.1 708.4,681.2 709.1,678.3 709.8,675.4 710.5,672.5 711.3,669.6 712.1,666.7 712.8,663.7 713.5,660.8 714.3,657.9 715.0,655.0 715.7,652.1 716.3,649.2 717.0,646.3 717.7,643.3 718.4,640.4 719.2,637.5 719.9,634.6 720.7,631.7 721.6,628.9 722.5,626.0 723.4,623.2 724.4,620.3 725.5,617.5 726.6,614.7 727.7,611.9 728.9,609.2 730.1,606.4 731.3,603.7 732.6,601.0 734.0,598.4 735.4,595.8 737.0,593.3 738.7,590.9 740.6,588.6 742.6,586.5 744.8,584.6 747.2,582.9 749.7,581.3 752.3,580.0 755.0,578.8 757.7,577.7 760.5,576.7 763.4,575.9 766.3,575.2 769.2,574.7 772.1,574.3 775.1,574.0 778.1,573.8 781.1,573.6 784.1,573.5 787.1,573.4 790.1,573.2 793.1,573.1 796.0,572.9 799.0,572.7 802.0,572.4 805.0,572.2 808.0,572.0 811.0,571.7 813.9,571.6 816.9,571.6 819.8,571.8 822.7,572.2 825.5,572.8 828.3,573.8 830.9,575.0 833.4,576.5 835.7,578.2 837.9,580.1 840.1,582.1 842.1,584.3 844.0,586.6 845.7,588.9 847.4,591.4 849.0,593.9 850.4,596.5 851.8,599.2 853.1,601.9 854.4,604.6 855.6,607.3 856.9,610.0 858.1,612.8 859.4,615.5 860.6,618.2 861.8,621.0 863.0,623.7 864.2,626.5 865.3,629.3 866.4,632.0 867.5,634.8 868.6,637.6 869.7,640.4 870.8,643.2 871.9,646.0 873.1,648.8 874.3,651.5 875.5,654.2 876.8,657.0 878.1,659.7 879.3,662.4 880.6,665.1 881.8,667.8 883.0,670.6 884.1,673.4 885.2,676.2 886.2,679.0 887.2,681.8 888.2,684.6 889.2,687.5 890.2,690.3 891.2,693.2 892.2,696.0 893.2,698.8 894.2,701.6 895.2,704.4 896.3,707.2 897.4,710.0 898.4,712.8 899.5,715.6 900.6,718.4 901.7,721.2 902.8,724.0 903.9,726.8 905.0,729.6 906.1,732.4 907.1,735.2 908.2,738.0 909.3,740.8 910.4,743.6 911.5,746.4 912.6,749.2 913.8,752.0 914.9,754.7 916.1,757.5 917.3,760.2 918.5,763.0 919.7,765.7 920.9,768.5 922.2,771.2 923.4,773.9 924.7,776.7 925.9,779.4 927.2,782.1 928.5,784.8 929.8,787.5 931.1,790.2 932.4,792.9 933.7,795.6 935.1,798.3 936.4,801.0 937.8,803.6 939.2,806.3 940.6,808.9 942.0,811.6 943.4,814.2 944.9,816.8 946.4,819.4 947.9,822.0 949.4,824.6 951.0,827.1 952.7,829.7 954.3,832.1 956.1,834.6 957.8,837.0 959.6,839.4 961.5,841.7 963.5,844.0 965.5,846.2 967.6,848.3 969.7,850.4 972.0,852.4 974.3,854.3 976.7,856.1 979.1,857.8 981.6,859.4 984.1,861.0 986.7,862.5 989.3,864.0 992.0,865.4 994.7,866.7 997.4,868.0 1000.1,869.2 1002.9,870.4 1005.7,871.5 1008.4,872.6 1011.2,873.7 1014.0,874.7 1016.9,875.7 1019.7,876.7 1022.6,877.6 1025.5,878.4 1028.3,879.2 1031.3,879.9 1034.2,880.5 1037.1,881.0 1040.1,881.5 1043.1,881.9 1046.0,882.2 1049.0,882.5 1052.0,882.8 1055.0,883.0 1058.0,883.2 1061.0,883.4 1064.0,883.5 1067.0,883.7 1070.0,883.7 1073.0,883.8 1076.0,883.8 1079.0,883.9 1082.0,883.9 1085.0,883.9 1088.0,883.9 1091.0,884.0 1094.0,884.0 1097.0,884.0 1100.0,884.0 1103.0,884.0 1106.0,884.0 1109.0,884.0 1112.0,884.0 1115.0,884.0 1118.0,884.0 1121.0,884.0 1124.0,884.1 1127.0,884.1 1130.0,884.1 1133.0,884.1 1136.0,884.1 1139.0,884.1 1142.0,884.1 1145.0,884.1 1148.0,884.1 1151.0,884.1 1154.0,884.1 1157.0,884.1 1160.0,884.1 1163.0,884.1 1166.0,884.1 1169.0,884.1 1172.0,884.1 1175.0,884.1 1178.0,884.1 1181.0,884.1 1184.0,884.1 1187.0,884.1 1190.0,884.1 1193.0,884.1 1196.0,884.1 1199.0,884.1 1202.0,884.1 1205.0,884.1 1208.0,884.1 1211.0,884.1 1214.0,884.1 1217.0,884.1 1220.0,884.1 1223.0,884.1 1226.0,884.1 1229.0,884.1 1232.0,884.1 1235.0,884.1 1238.0,884.1 1241.0,884.1 1244.0,884.1 1247.0,884.1 1250.0,884.1 1253.0,884.1 1256.0,884.1 1259.0,884.1 1262.0,884.1 1265.0,884.1 1268.0,884.1 1271.0,884.1 1274.0,884.1 1277.0,884.1 1280.0,884.1 1283.0,884.0 1286.0,884.0 1289.0,884.0 1292.0,884.0 1295.0,884.0 1298.0,884.0 1301.0,884.0 1304.0,884.0 1307.0,884.0 1310.0,884.0 1313.0,884.0 1316.0,884.0 1319.0,884.0 1322.0,884.0 1325.0,884.0 1328.0,884.0 1331.0,884.0 1334.0,884.0 1337.0,884.0 1340.0,884.0 1343.0,884.0 1346.0,884.0 1349.0,884.0 1352.0,884.0 1355.0,884.0 1358.0,884.0 1361.0,884.0 1364.0,884.0 1367.0,884.0 1369.0,884.0" fill="none" stroke="#ffff00" stroke-width="4.0"/>
<polyline points="640.0,836.1 642.3,834.2 644.7,832.3 647.0,830.4 649.2,828.5 651.4,826.5 653.6,824.4 655.6,822.2 657.6,820.0 659.4,817.6 661.0,815.2 662.6,812.6 664.1,810.1 665.5,807.4 666.9,804.8 668.3,802.1 669.7,799.5 671.1,796.8 672.5,794.2 673.9,791.5 675.3,788.9 676.7,786.2 678.0,783.6 679.3,780.8 680.5,778.1 681.6,775.3 682.7,772.5 683.7,769.7 684.6,766.9 685.6,764.1 686.6,761.2 687.6,758.4 688.6,755.6 689.6,752.7 690.5,749.9 691.4,747.0 692.2,744.1 693.0,741.2 693.8,738.4 694.6,735.5 695.4,732.6 696.1,729.7 696.9,726.8 697.7,723.9 698.4,721.0 699.2,718.1 700.0,715.2 700.8,712.3 701.6,709.4 702.4,706.5 703.1,703.6 703.9,700.7 704.6,697.8 705.3,694.8 706.0,691.9 706.6,689.0 707.3,686.1 708.0,683.1 708.6,680.2 709.3,677.3 710.1,674.4 710.8,671.5 711.5,668.6 712.3,665.7 713.1,662.8 713.8,659.9 714.5,657.0 715.2,654.0 715.9,651.1 716.6,648.2 717.3,645.3 718.0,642.4 718.7,639.4 719.4,636.5 720.2,633.6 721.0,630.8 721.9,627.9 722.8,625.0 723.8,622.2 724.8,619.4 725.8,616.6 726.9,613.8 728.1,611.0 729.3,608.3 730.5,605.5 731.7,602.8 733.1,600.1 734.5,597.5 736.0,594.9 737.6,592.4 739.3,590.1 741.2,587.9 743.3,585.8 745.6,584.0 748.0,582.3 750.5,580.9 753.2,579.6 755.9,578.4 758.6,577.3 761.5,576.4 764.3,575.7 767.2,575.0 770.2,574.6 773.1,574.2 776.1,573.9 779.1,573.8 782.1,573.6 785.1,573.5 788.1,573.3 791.1,573.2 794.1,573.0 797.0,572.8 800.0,572.6 803.0,572.4 806.0,572.1 809.0,571.9 812.0,571.7 814.9,571.6 817.9,571.6 820.8,571.9 823.7,572.4 826.5,573.1 829.1,574.1 831.7,575.4 834.2,577.0 836.5,578.8 838.7,580.7 840.7,582.8 842.7,585.0 844.6,587.4 846.3,589.8 847.9,592.2 849.5,594.8 850.9,597.4 852.2,600.1 853.5,602.8 854.8,605.5 856.0,608.2 857.3,611.0 858.5,613.7 859.8,616.4 861.0,619.2 862.2,621.9 863.4,624.6 864.6,627.4 865.7,630.2 866.8,633.0 867.9,635.8 869.0,638.6 870.1,641.4 871.2,644.2 872.3,646.9 873.5,649.7 874.7,652.4 875.9,655.1 877.2,657.9 878.5,660.6 879.8,663.3 881.0,666.0 882.2,668.8 883.4,671.5 884.5,674.3 885.5,677.1 886.6,679.9 887.6,682.8 888.6,685.6 889.5,688.4 890.5,691.3 891.5,694.1 892.5,696.9 893.5,699.8 894.5,702.6 895.6,705.4 896.6,708.2 897.7,711.0 898.8,713.8 899.9,716.6 901.0,719.4 902.1,722.2 903.2,725.0 904.3,727.8 905.3,730.6 906.4,733.4 907.5,736.2 908.6,738.9 909.7,741.7 910.8,744.5 911.9,747.3 913.0,750.1 914.2,752.9 915.3,755.6 916.5,758.4 917.7,761.2 918.9,763.9 920.1,766.6 921.3,769.4 922.6,772.1 923.8,774.8 925.1,777.6 926.3,780.3 927.6,783.0 928.9,785.7 930.2,788.4 931.5,791.1 932.8,793.8 934.2,796.5 935.5,799.2 936.9,801.8 938.3,804.5 939.7,807.2 941.1,809.8 942.5,812.5 943.9,815.1 945.4,817.7 946.9,820.3 948.4,822.9 950.0,825.5 951.6,828.0 953.2,830.5 954.9,833.0 956.6,835.4 958.4,837.8 960.3,840.2 962.1,842.5 964.1,844.8 966.2,846.9 968.3,849.0 970.5,851.1 972.7,853.0 975.1,854.9 977.5,856.6 979.9,858.3 982.4,860.0 985.0,861.5 987.6,863.0 990.2,864.4 992.9,865.8 995.6,867.1 998.3,868.4 999.2,868.8" fill="none" stroke="#ffff00" stroke-width="4.5"/>
<polyline points="183.0,869.5 186.0,869.5 189.0,869.5 192.0,869.5 195.0,869.5 198.0,869.5 201.0,869.5 204.0,869.5 207.0,869.5 210.0,869.5 213.0,869.4 216.0,869.4 219.0,869.4 222.0,869.4 225.0,869.4 228.0,869.4 231.0,869.5 234.0,869.5 237.0,869.5 240.0,869.5 243.0,869.5 246.0,869.5 249.0,869.5 252.0,869.5 255.0,869.5 258.0,869.5 261.0,869.5 264.0,869.5 267.0,869.5 270.0,869.5 273.0,869.5 276.0,869.5 279.0,869.5 282.0,869.5 285.0,869.5 288.0,869.5 291.0,869.5 294.0,869.5 297.0,869.5 300.0,869.5 303.0,869.5 306.1,869.5 309.1,869.5 312.1,869.5 315.1,869.4 318.1,869.4 321.1,869.4 324.1,869.4 327.1,869.4 330.1,869.4 333.1,869.4 336.1,869.4 339.1,869.4 342.1,869.4 345.1,869.4 348.1,869.4 351.1,869.4 354.1,869.4 357.1,869.4 360.1,869.4 363.1,869.3 366.1,869.3 369.1,869.3 372.1,869.3 375.1,869.3 378.1,869.3 381.1,869.3 384.1,869.3 387.1,869.2 390.1,869.2 393.1,869.2 396.1,869.2 399.1,869.2 402.1,869.2 405.1,869.1 408.1,869.1 411.1,869.1 414.1,869.1 417.1,869.0 420.1,869.0 423.1,869.0 426.1,869.0 429.1,868.9 432.1,868.9 435.1,868.9 438.1,868.8 441.1,868.8 444.1,868.7 447.1,868.7 450.1,868.7 453.1,868.6 456.1,868.6 459.1,868.5 462.1,868.4 465.1,868.4 468.1,868.3 471.1,868.2 474.1,868.1 477.1,868.1 480.1,868.0 483.1,867.8 486.1,867.7 489.1,867.6 492.1,867.5 495.1,867.3 498.1,867.1 501.1,867.0 504.1,866.8 507.1,866.5 510.1,866.3 513.1,866.0 516.0,865.7 519.0,865.4 522.0,865.0 525.0,864.6 527.9,864.1 530.9,863.6 533.8,863.1 536.8,862.4 539.7,861.8 542.6,861.0 545.5,860.3 548.4,859.6 551.3,858.9 554.3,858.3 557.2,857.7 560.1,857.1 563.1,856.6 566.1,856.1 569.0,855.6 572.0,855.2 574.9,854.7 577.9,854.2 580.9,853.7 583.8,853.3 586.8,852.8 589.7,852.2 592.7,851.7 595.7,851.2 598.6,850.6 601.5,850.0 604.5,849.4 607.4,848.7 610.3,848.0 613.2,847.3 616.1,846.6 619.0,845.8 621.9,845.0 624.8,844.2 627.7,843.3 630.6,842.4 633.4,841.5 636.3,840.6 639.1,839.6 641.9,838.5 644.7,837.4 647.4,836.2 650.1,835.0 652.8,833.6 655.4,832.2 657.9,830.6 660.4,829.0 662.8,827.2 665.2,825.3 667.5,823.4 669.7,821.5 671.9,819.4 674.1,817.4 676.2,815.2 678.2,813.0 680.2,810.8 682.0,808.4 683.8,806.1 685.6,803.6 687.2,801.1 688.8,798.6 690.3,796.0 691.8,793.4 693.2,790.7 694.5,788.0 695.8,785.3 697.0,782.6 698.3,779.9 699.5,777.1 700.7,774.4 701.9,771.7 703.1,768.9 704.3,766.1 705.4,763.4 706.4,760.5 707.3,757.7 708.2,754.8 709.1,752.0 709.9,749.1 710.7,746.2 711.4,743.3 711.9,741.3" fill="none" stroke="#00ff00" stroke-width="5.0"/>

<polyline points="985.6,852.7 988.1,854.4 990.6,856.1 993.2,857.7 995.8,859.2 998.4,860.6 1001.0,862.0 1003.7,863.3 1006.5,864.5 1009.2,865.6 1012.0,866.7 1014.9,867.7 1017.7,868.6 1020.6,869.4 1023.5,870.2 1026.4,870.9 1029.3,871.6 1032.3,872.2 1035.2,872.7 1038.2,873.3 1041.1,873.7 1044.1,874.2 1047.0,874.6 1050.0,875.0 1053.0,875.4 1056.0,875.8 1058.9,876.2 1061.9,876.4 1064.9,876.7 1067.9,876.9 1070.9,877.0 1073.9,877.1 1076.9,877.2 1079.9,877.2 1082.9,877.3 1085.9,877.3 1088.9,877.4 1091.9,877.4 1094.9,877.4 1097.9,877.5 1100.9,877.5 1103.9,877.5 1106.9,877.5 1109.9,877.6 1112.9,877.6 1115.9,877.6 1118.9,877.6 1121.9,877.6 1124.9,877.7 1127.9,877.7 1130.9,877.7 1133.9,877.7 1136.9,877.7 1139.9,877.7 1142.9,877.7 1145.9,877.7 1148.9,877.7 1151.9,877.8 1154.9,877.8 1157.9,877.8 1160.9,877.8 1163.9,877.8 1166.9,877.8 1169.9,877.8 1172.9,877.8 1175.9,877.8 1178.9,877.8 1181.9,877.8 1184.9,877.8 1187.9,877.8 1190.9,877.8 1193.9,877.9 1196.9,877.9 1199.9,877.9 1202.9,877.9 1205.9,877.9 1208.9,877.9 1211.9,877.9 1214.9,877.9 1217.9,877.9 1220.9,877.9 1223.9,877.9 1226.9,877.9 1229.9,877.9 1232.9,877.9 1235.9,877.9 1238.9,877.9 1241.9,877.9 1244.9,877.9 1248.0,877.9 1251.0,877.9 1254.0,877.9 1257.0,877.9 1260.0,877.9 1263.0,877.9 1266.0,877.9 1269.0,877.9 1272.0,877.9 1275.0,877.9 1278.0,877.9 1281.0,877.9 1284.0,877.9 1287.0,877.9 1290.0,877.9 1293.0,877.9 1296.0,877.9 1299.0,877.9 1302.0,878.0 1305.0,878.0 1308.0,878.0 1311.0,878.0 1314.0,878.0 1317.0,878.0 1320.0,878.0 1323.0,878.0 1326.0,878.0 1329.0,878.0 1332.0,878.0 1335.0,878.0 1338.0,878.0 1341.0,878.0 1344.0,878.0 1347.0,878.0 1350.0,878.0 1353.0,878.0 1356.0,878.0 1359.0,878.0 1362.0,878.0 1365.0,878.0 1368.0,878.0 1369.0,878.0" fill="none" stroke="#00ff00" stroke-width="5.0"/>

<polyline points="183.0,873.5 186.0,873.5 189.0,873.5 192.0,873.4 195.0,873.4 198.0,873.4 201.0,873.4 204.0,873.4 207.0,873.3 210.0,873.3 213.0,873.3 216.0,873.3 219.0,873.3 222.0,873.2 225.0,873.2 228.0,873.2 231.0,873.2 234.0,873.2 237.0,873.1 240.0,873.1 243.0,873.1 246.0,873.1 249.0,873.1 252.0,873.0 255.0,873.0 258.0,873.0 261.0,873.0 264.0,872.9 267.0,872.9 270.0,872.9 273.0,872.8 276.0,872.8 279.0,872.8 282.0,872.7 285.0,872.7 288.0,872.7 291.0,872.6 294.0,872.6 297.0,872.5 300.0,872.5 303.0,872.4 306.0,872.4 309.0,872.3 312.0,872.3 315.0,872.2 318.0,872.2 321.0,872.1 324.0,872.1 327.0,872.0 330.0,871.9 333.0,871.9 336.0,871.8 339.0,871.7 342.0,871.6 345.0,871.6 348.0,871.5 351.0,871.4 354.0,871.3 357.0,871.3 360.0,871.2 363.0,871.1 366.0,871.0 369.0,870.9 372.0,870.9 375.0,870.8 378.0,870.7 381.0,870.6 384.0,870.5 387.0,870.4 390.0,870.3 393.0,870.2 396.0,870.1 399.0,870.0 402.0,869.9 405.0,869.8 408.0,869.7 411.0,869.6 414.0,869.5 417.0,869.4 420.0,869.3 423.0,869.2 426.0,869.1 429.0,869.0 432.0,868.9 435.0,868.8 438.0,868.7 441.0,868.6 444.0,868.5 447.0,868.4 450.0,868.2 453.0,868.1 456.0,868.0 459.0,867.9 462.0,867.7 465.0,867.6 468.0,867.4 471.0,867.3 474.0,867.1 477.0,866.9 480.0,866.7 482.9,866.5 485.9,866.2 488.9,866.0 491.9,865.7 494.9,865.3 497.9,864.9 500.8,864.5 503.8,864.0 506.7,863.5 509.7,863.0 512.7,862.5 515.6,862.0 518.6,861.5 521.5,861.0 524.5,860.6 527.5,860.1 530.4,859.7 533.4,859.2 536.4,858.8 539.3,858.4 542.3,857.9 545.3,857.5 548.2,857.1 551.2,856.6 554.2,856.2 557.2,855.8 560.1,855.3 563.1,854.9 566.1,854.5 569.0,854.0 572.0,853.6 575.0,853.1 577.9,852.7 580.9,852.2 583.9,851.7 586.8,851.2 589.8,850.7 592.7,850.2 595.7,849.6 598.6,849.1 601.6,848.5 604.5,847.9 607.4,847.2 610.4,846.6 613.3,845.9 616.2,845.2 619.1,844.5 622.0,843.8 624.9,843.0 627.8,842.2 630.7,841.4 633.6,840.5 636.4,839.6 639.2,838.5 642.0,837.4 644.7,836.2 647.4,834.9 650.1,833.6 652.7,832.1 655.3,830.6 657.8,829.0 660.3,827.4 662.8,825.7 665.2,823.9 667.6,822.1 669.9,820.2 672.1,818.2 674.3,816.2 676.4,814.1 678.5,811.9 680.5,809.7 682.4,807.4 684.2,805.0 686.0,802.6 687.8,800.2 689.4,797.7 691.1,795.2 692.7,792.6 694.2,790.1 695.8,787.5 697.2,784.9 698.7,782.3 700.1,779.6 701.4,776.9 702.7,774.2 704.0,771.5 705.2,768.8 706.3,766.0 707.5,763.2 708.5,760.4 709.6,757.6 710.6,754.8 711.7,752.0 712.7,749.1 713.7,746.3 714.6,743.5 715.6,740.6 716.5,737.8 717.4,734.9 718.3,732.1 719.2,729.2 720.1,726.3 720.9,723.4 721.7,720.5 722.5,717.7 723.3,714.8 724.1,711.9 724.8,708.9 725.5,706.0 726.2,703.1 726.9,700.2 727.6,697.3 728.3,694.4 729.0,691.4 729.7,688.5 730.4,685.6 731.0,682.7 731.7,679.7 732.3,676.8 733.0,673.9 733.6,671.0 734.2,668.0 734.8,665.1 735.4,662.1 736.0,659.2 736.6,656.3 737.2,653.3 737.8,650.4 738.4,647.4 739.0,644.5 739.6,641.6 740.2,638.6 740.8,635.7 741.4,632.7 742.1,629.8 742.7,626.9 743.3,623.9 743.9,621.0 744.6,618.1 745.2,615.1 745.8,612.2 746.5,609.3 747.1,606.3 747.7,603.4 748.4,600.5 749.0,597.5 749.7,594.6 750.3,591.7 751.0,588.8 751.7,585.8 752.4,582.9 753.1,580.0 753.8,577.1 754.6,574.2 755.3,571.3 756.1,568.4 756.9,565.5 757.8,562.6 758.7,559.8 759.6,556.9 760.5,554.1 761.5,551.2 762.5,548.4 763.5,545.6 764.5,542.7 765.4,539.9 766.3,537.0 767.1,534.2 767.9,531.3 768.7,528.4 769.4,525.5 770.3,522.6 771.2,519.8 772.2,517.0 773.2,514.2 774.4,511.4 775.6,508.7 776.8,505.9 778.1,503.2 779.4,500.5 780.8,497.9 782.2,495.2 783.6,492.6 785.0,489.9 786.4,487.3 787.9,484.7 789.4,482.1 790.9,479.5 792.5,477.0 794.2,474.5 795.9,472.1 797.8,469.8 799.8,467.6 801.9,465.5 804.1,463.7 806.5,462.1 808.9,460.8 811.5,459.9 814.1,459.5 816.6,459.6 819.1,460.3 821.5,461.4 823.8,463.0 825.8,464.9 827.7,467.1 829.4,469.4 831.0,471.9 832.4,474.5 833.7,477.2 835.0,479.9 836.2,482.7 837.4,485.4 838.6,488.1 839.9,490.9 841.1,493.6 842.4,496.3 843.7,499.0 844.9,501.7 846.2,504.5 847.5,507.2 848.7,509.9 849.9,512.7 851.0,515.4 852.2,518.2 853.4,521.0 854.5,523.8 855.6,526.5 856.7,529.3 857.8,532.1 858.8,535.0 859.8,537.8 860.8,540.6 861.8,543.4 862.9,546.2 864.0,549.0 865.2,551.7 866.4,554.5 867.7,557.2 869.0,559.9 870.2,562.6 871.5,565.3 872.6,568.1 873.8,570.9 874.8,573.7 875.8,576.5 876.8,579.3 877.7,582.2 878.5,585.1 879.4,587.9 880.3,590.8 881.1,593.7 882.0,596.6 882.9,599.4 883.8,602.3 884.7,605.1 885.6,608.0 886.6,610.8 887.6,613.7 888.6,616.5 889.6,619.3 890.6,622.2 891.6,625.0 892.5,627.8 893.5,630.7 894.4,633.5 895.3,636.4 896.2,639.2 897.1,642.1 898.0,645.0 898.8,647.9 899.6,650.8 900.5,653.6 901.3,656.5 902.1,659.4 902.9,662.3 903.7,665.2 904.4,668.1 905.2,671.0 905.9,673.9 906.7,676.8 907.4,679.7 908.2,682.6 908.9,685.5 909.7,688.4 910.5,691.3 911.4,694.2 912.2,697.1 913.1,699.9 914.1,702.8 915.0,705.6 916.0,708.5 917.1,711.3 918.1,714.1 919.2,716.9 920.2,719.7 921.3,722.5 922.4,725.3 923.5,728.1 924.6,730.9 925.8,733.6 926.9,736.4 928.0,739.2 929.1,742.0 930.2,744.8 931.4,747.6 932.5,750.3 933.7,753.1 934.8,755.9 936.0,758.6 937.1,761.4 938.3,764.2 939.5,766.9 940.7,769.7 941.9,772.4 943.0,775.2 944.2,777.9 945.4,780.7 946.7,783.4 947.9,786.2 949.1,788.9 950.3,791.7 951.6,794.4 952.8,797.1 954.1,799.8 955.4,802.6 956.7,805.3 958.0,808.0 959.3,810.6 960.7,813.3 962.0,816.0 963.4,818.6 964.9,821.3 966.3,823.9 967.8,826.5 969.4,829.0 971.0,831.6 972.7,834.0 974.5,836.4 976.3,838.8 978.2,841.2 980.1,843.4 982.1,845.7 984.2,847.8 986.3,849.9 988.5,852.0 990.7,854.0 993.0,855.9 995.4,857.7 997.8,859.5 1000.2,861.2 1002.7,862.8 1005.3,864.3 1007.9,865.8 1010.6,867.1 1013.3,868.4 1016.1,869.5 1018.9,870.6 1021.7,871.7 1024.5,872.6 1027.4,873.5 1030.3,874.2 1033.2,874.9 1036.1,875.5 1039.1,876.0 1042.0,876.5 1045.0,876.8 1048.0,877.2 1051.0,877.4 1053.9,877.6 1056.9,877.7 1059.9,877.8 1062.9,877.9 1065.9,877.9 1068.9,877.9 1071.9,877.9 1074.9,877.9 1077.9,877.9 1080.9,877.9 1083.9,878.0 1086.9,878.0 1089.9,878.0 1092.9,878.0 1095.9,878.0 1098.9,878.0 1101.9,878.0 1104.9,878.0 1107.9,878.0 1110.9,878.0 1113.9,878.1 1116.9,878.1 1119.9,878.1 1122.9,878.1 1125.9,878.1 1128.9,878.1 1131.9,878.1 1134.9,878.1 1137.9,878.1 1140.9,878.1 1143.9,878.1 1147.0,878.1 1150.0,878.2 1153.0,878.2 1156.0,878.2 1159.0,878.2 1162.0,878.2 1165.0,878.2 1168.0,878.2 1171.0,878.2 1174.0,878.2 1177.0,878.2 1180.0,878.2 1183.0,878.2 1186.0,878.2 1189.0,878.2 1192.0,878.2 1195.0,878.2 1198.0,878.2 1201.0,878.3 1204.0,878.3 1207.0,878.3 1210.0,878.3 1213.0,878.3 1216.0,878.3 1219.0,878.3 1222.0,878.3 1225.0,878.3 1228.0,878.3 1231.0,878.3 1234.0,878.3 1237.0,878.3 1240.0,878.3 1243.0,878.3 1246.0,878.3 1249.0,878.3 1252.0,878.3 1255.0,878.3 1258.0,878.3 1261.0,878.3 1264.0,878.4 1267.0,878.4 1270.0,878.4 1273.0,878.4 1276.0,878.4 1279.0,878.4 1282.0,878.4 1285.0,878.4 1288.0,878.4 1291.0,878.4 1294.0,878.4 1297.0,878.4 1300.0,878.4 1303.0,878.4 1306.0,878.4 1309.0,878.4 1312.0,878.4 1315.0,878.4 1318.0,878.4 1321.0,878.4 1324.0,878.4 1327.0,878.4 1330.0,878.4 1333.0,878.4 1336.0,878.4 1339.0,878.5 1342.0,878.5 1345.0,878.5 1348.0,878.5 1351.0,878.5 1354.0,878.5 1357.0,878.5 1360.0,878.5 1363.0,878.5 1366.0,878.5 1369.0,878.5" fill="none" stroke="#808000" stroke-width="5.0"/>
<polyline points="650.1,833.6 652.7,832.1 655.3,830.6 657.8,829.0 660.3,827.4 662.8,825.7 665.2,823.9 667.6,822.1 669.9,820.2 672.1,818.2 674.3,816.2 676.4,814.1 678.5,811.9 680.5,809.7 682.4,807.4 684.2,805.0 686.0,802.6 687.8,800.2 689.4,797.7 691.1,795.2 692.7,792.6 694.2,790.1 695.8,787.5 697.2,784.9 698.7,782.3 700.1,779.6 701.4,776.9 702.7,774.2 704.0,771.5 705.2,768.8 706.3,766.0 707.5,763.2 708.5,760.4 709.6,757.6 710.6,754.8 711.7,752.0 712.7,749.1 713.7,746.3 714.6,743.5 715.6,740.6 716.5,737.8 717.4,734.9 718.3,732.1 719.2,729.2 720.1,726.3 720.9,723.4 721.7,720.5 722.5,717.7 723.3,714.8 724.1,711.9 724.8,708.9 725.5,706.0 726.2,703.1 726.9,700.2 727.6,697.3 728.3,694.4 729.0,691.4 729.7,688.5 730.4,685.6 731.0,682.7 731.7,679.7 732.3,676.8 733.0,673.9 733.6,671.0 734.2,668.0 734.8,665.1 735.4,662.1 736.0,659.2 736.6,656.3 737.2,653.3 737.8,650.4 738.4,647.4 739.0,644.5 739.6,641.6 740.2,638.6 740.8,635.7 741.4,632.7 742.1,629.8 742.7,626.9 743.3,623.9 743.9,621.0 744.6,618.1 745.2,615.1 745.8,612.2 746.5,609.3 747.1,606.3 747.7,603.4 748.4,600.5 749.0,597.5 749.7,594.6 750.3,591.7 751.0,588.8 751.7,585.8 752.4,582.9 753.1,580.0 753.8,577.1 754.6,574.2 755.3,571.3 756.1,568.4 756.9,565.5 757.8,562.6 758.7,559.8 759.6,556.9 760.5,554.1 761.5,551.2 762.5,548.4 763.5,545.6 764.5,542.7 765.4,539.9 766.3,537.0 767.1,534.2 767.9,531.3 768.7,528.4 769.4,525.5 770.3,522.6 771.2,519.8 772.2,517.0 773.2,514.2 774.4,511.4 775.6,508.7 776.8,505.9 778.1,503.2 779.4,500.5 780.8,497.9 782.2,495.2 783.6,492.6 785.0,489.9 786.4,487.3 787.9,484.7 789.4,482.1 790.9,479.5 792.5,477.0 794.2,474.5 795.9,472.1 797.8,469.8 799.8,467.6 801.9,465.5 804.1,463.7 806.5,462.1 808.9,460.8 811.5,459.9 814.1,459.5 816.6,459.6 819.1,460.3 821.5,461.4 823.8,463.0 825.8,464.9 827.7,467.1 829.4,469.4 831.0,471.9 832.4,474.5 833.7,477.2 835.0,479.9 836.2,482.7 837.4,485.4 838.6,488.1 839.9,490.9 841.1,493.6 842.4,496.3 843.7,499.0 844.9,501.7 846.2,504.5 847.5,507.2 848.7,509.9 849.9,512.7 851.0,515.4 852.2,518.2 853.4,521.0 854.5,523.8 855.6,526.5 856.7,529.3 857.8,532.1 858.8,535.0 859.8,537.8 860.8,540.6 861.8,543.4 862.9,546.2 864.0,549.0 865.2,551.7 866.4,554.5 867.7,557.2 869.0,559.9 870.2,562.6 871.5,565.3 872.6,568.1 873.8,570.9 874.8,573.7 875.8,576.5 876.8,579.3 877.7,582.2 878.5,585.1 879.4,587.9 880.3,590.8 881.1,593.7 882.0,596.6 882.9,599.4 883.8,602.3 884.7,605.1 885.6,608.0 886.6,610.8 887.6,613.7 888.6,616.5 889.6,619.3 890.6,622.2 891.6,625.0 892.5,627.8 893.5,630.7 894.4,633.5 895.3,636.4 896.2,639.2 897.1,642.1 898.0,645.0 898.8,647.9 899.6,650.8 900.5,653.6 901.3,656.5 902.1,659.4 902.9,662.3 903.7,665.2 904.4,668.1 905.2,671.0 905.9,673.9 906.7,676.8 907.4,679.7 908.2,682.6 908.9,685.5 909.7,688.4 910.5,691.3 911.4,694.2 912.2,697.1 913.1,699.9 914.1,702.8 915.0,705.6 916.0,708.5 917.1,711.3 918.1,714.1 919.2,716.9 920.2,719.7 921.3,722.5 922.4,725.3 923.5,728.1 924.6,730.9 925.8,733.6 926.9,736.4 928.0,739.2 929.1,742.0 930.2,744.8 931.4,747.6 932.5,750.3 933.7,753.1 934.8,755.9 936.0,758.6 937.1,761.4 938.3,764.2 939.5,766.9 940.7,769.7 941.9,772.4 943.0,775.2 944.2,777.9 945.4,780.7 946.7,783.4 947.9,786.2 949.1,788.9 950.3,791.7 951.6,794.4 952.8,797.1 954.1,799.8 955.4,802.6 956.7,805.3 958.0,808.0 959.3,810.6 960.7,813.3 962.0,816.0 963.4,818.6 964.9,821.3 966.3,823.9 967.8,826.5 969.4,829.0 971.0,831.6 972.7,834.0 974.5,836.4 976.3,838.8 978.2,841.2 980.1,843.4 982.1,845.7 984.2,847.8 986.3,849.9 988.5,852.0 990.7,854.0 993.0,855.9 995.4,857.7 997.8,859.5 1000.2,861.2 1002.7,862.8 1005.3,864.3 1007.9,865.8 1009.7,866.7" fill="none" stroke="#808000" stroke-width="6.5"/>
<polyline points="183.0,876.0 186.0,876.0 189.0,875.9 192.0,875.9 195.0,875.9 198.0,875.8 201.0,875.8 204.0,875.8 207.0,875.8 210.0,875.7 213.0,875.7 216.0,875.7 219.0,875.7 222.0,875.7 225.0,875.6 228.0,875.6 231.0,875.6 234.0,875.6 237.0,875.5 240.0,875.5 243.0,875.5 246.0,875.5 249.0,875.5 252.0,875.4 255.0,875.4 258.0,875.4 261.0,875.4 264.0,875.3 267.0,875.3 270.0,875.3 273.0,875.3 276.1,875.2 279.1,875.2 282.1,875.2 285.1,875.1 288.1,875.1 291.1,875.1 294.1,875.1 297.1,875.0 300.1,875.0 303.1,875.0 306.1,874.9 309.1,874.9 312.1,874.9 315.1,874.8 318.1,874.8 321.1,874.7 324.1,874.7 327.1,874.7 330.1,874.6 333.1,874.6 336.1,874.5 339.1,874.5 342.1,874.4 345.1,874.4 348.1,874.3 351.1,874.3 354.1,874.2 357.1,874.1 360.1,874.1 363.1,874.0 366.1,874.0 369.1,873.9 372.1,873.8 375.1,873.7 378.1,873.7 381.1,873.6 384.1,873.5 387.1,873.4 390.1,873.3 393.1,873.2 396.1,873.1 399.1,873.0 402.1,872.9 405.1,872.8 408.1,872.7 411.1,872.5 414.1,872.4 417.1,872.3 420.1,872.1 423.1,872.0 426.1,871.8 429.1,871.7 432.1,871.5 435.1,871.3 438.1,871.2 441.1,871.0 444.1,870.8 447.1,870.6 450.1,870.5 453.1,870.3 456.1,870.1 459.0,869.9 462.0,869.7 465.0,869.5 468.0,869.3 471.0,869.1 474.0,868.9 477.0,868.7 480.0,868.4 483.0,868.2 486.0,868.0 489.0,867.8 492.0,867.6 495.0,867.3 498.0,867.1 501.0,866.9 504.0,866.6 507.0,866.4 509.9,866.2 512.9,865.9 515.9,865.7 518.9,865.4 521.9,865.2 524.9,864.9 527.9,864.7 530.9,864.4 533.9,864.2 536.9,863.9 539.9,863.7 542.8,863.4 545.8,863.2 548.8,862.9 551.8,862.7 554.8,862.4 557.8,862.2 560.8,861.9 563.8,861.6 566.8,861.3 569.7,861.0 572.7,860.6 575.7,860.2 578.6,859.7 581.6,859.2 584.5,858.7 587.5,858.2 590.4,857.8 593.4,857.3 596.3,857.0 599.3,856.7 602.3,856.4 605.3,856.1 608.3,855.7 611.3,855.4 614.2,855.0 617.2,854.5 620.1,854.0 623.1,853.4 626.0,852.7 628.9,852.0 631.8,851.2 634.7,850.4 637.5,849.5 640.4,848.5 643.2,847.5 646.0,846.4 648.7,845.2 651.5,844.0 654.2,842.8 656.9,841.4 659.5,840.0 662.1,838.5 664.7,837.0 667.2,835.3 669.6,833.6 672.0,831.8 674.3,829.9 676.6,828.0 678.8,826.0 680.9,823.9 683.0,821.7 685.0,819.5 686.9,817.2 688.7,814.8 690.5,812.4 692.1,809.9 693.7,807.3 695.1,804.7 696.5,802.1 697.9,799.4 699.2,796.7 700.5,794.0 701.8,791.3 703.1,788.6 704.3,785.8 705.5,783.1 706.8,780.4 707.9,777.6 709.0,774.8 710.1,772.0 711.1,769.2 712.0,766.3 712.8,763.5 713.6,760.6 714.4,757.7 715.1,754.7 715.7,751.8 716.4,748.9 717.1,746.0 717.8,743.1 718.5,740.1 719.2,737.2 719.9,734.3 720.6,731.4 721.4,728.5 722.1,725.6 722.8,722.7 723.6,719.8 724.3,716.8 725.0,713.9 725.7,711.0 726.5,708.1 727.2,705.2 728.0,702.3 728.8,699.4 729.6,696.5 730.4,693.6 731.2,690.7 732.1,687.9 732.9,685.0 733.8,682.1 734.6,679.2 735.4,676.3 736.2,673.4 737.0,670.5 737.7,667.6 738.4,664.7 739.1,661.8 739.8,658.9 740.4,655.9 741.1,653.0 741.7,650.1 742.3,647.1 743.0,644.2 743.6,641.3 744.2,638.3 744.8,635.4 745.4,632.4 746.0,629.5 746.6,626.6 747.2,623.6 747.8,620.7 748.5,617.8 749.2,614.9 750.0,612.0 750.8,609.1 751.7,606.2 752.6,603.4 753.6,600.5 754.5,597.7 755.4,594.8 756.4,592.0 757.3,589.1 758.2,586.3 759.2,583.4 760.2,580.6 761.3,577.8 762.4,575.0 763.5,572.2 764.7,569.5 766.0,566.8 767.4,564.1 768.8,561.5 770.3,558.9 771.9,556.4 773.5,553.8 775.1,551.3 776.8,548.8 778.4,546.3 780.0,543.8 781.6,541.2 783.2,538.7 784.8,536.1 786.2,533.5 787.7,530.9 789.2,528.3 790.7,525.7 792.2,523.2 793.9,520.8 795.8,518.5 797.8,516.4 800.0,514.4 802.3,512.5 804.7,510.9 807.2,509.4 809.8,508.3 812.5,507.4 815.2,507.0 817.9,507.0 820.6,507.4 823.2,508.3 825.7,509.5 828.1,511.1 830.4,512.9 832.5,514.9 834.5,517.1 836.3,519.4 837.9,521.9 839.5,524.4 841.0,527.0 842.4,529.7 843.7,532.4 845.0,535.1 846.3,537.8 847.5,540.5 848.8,543.2 850.0,546.0 851.3,548.7 852.5,551.4 853.7,554.2 854.9,556.9 856.0,559.7 857.1,562.5 858.1,565.3 859.2,568.1 860.2,571.0 861.2,573.8 862.1,576.6 863.1,579.5 864.1,582.3 865.0,585.2 866.0,588.0 866.9,590.9 867.9,593.7 868.8,596.6 869.8,599.4 870.7,602.3 871.7,605.1 872.6,608.0 873.5,610.8 874.5,613.7 875.4,616.5 876.3,619.4 877.3,622.2 878.3,625.0 879.4,627.8 880.5,630.6 881.6,633.4 882.7,636.2 883.9,638.9 885.1,641.7 886.4,644.4 887.6,647.2 888.8,649.9 889.9,652.7 891.1,655.5 892.2,658.3 893.3,661.1 894.3,663.9 895.3,666.7 896.3,669.5 897.3,672.4 898.2,675.2 899.1,678.1 900.1,680.9 901.0,683.8 902.0,686.6 902.9,689.5 903.9,692.3 904.9,695.1 905.9,698.0 906.9,700.8 907.9,703.6 908.9,706.4 909.9,709.3 910.8,712.1 911.8,715.0 912.8,717.8 913.7,720.7 914.6,723.5 915.6,726.4 916.5,729.2 917.5,732.1 918.5,734.9 919.4,737.7 920.4,740.6 921.4,743.4 922.4,746.2 923.4,749.1 924.5,751.9 925.5,754.7 926.6,757.5 927.6,760.3 928.7,763.1 929.8,765.9 930.8,768.7 931.9,771.5 933.0,774.3 934.2,777.1 935.3,779.9 936.4,782.6 937.6,785.4 938.8,788.2 940.0,790.9 941.2,793.7 942.4,796.4 943.7,799.1 945.0,801.8 946.3,804.5 947.6,807.2 949.0,809.9 950.4,812.5 951.9,815.1 953.4,817.7 955.0,820.3 956.6,822.8 958.2,825.3 959.9,827.8 961.6,830.2 963.4,832.6 965.3,835.0 967.2,837.3 969.1,839.6 971.2,841.8 973.2,844.0 975.3,846.1 977.5,848.2 979.7,850.2 981.9,852.2 984.3,854.1 986.6,855.9 989.1,857.6 991.5,859.3 994.1,860.9 996.6,862.5 999.2,863.9 1001.9,865.2 1004.6,866.5 1007.4,867.7 1010.2,868.7 1013.0,869.7 1015.8,870.7 1018.7,871.5 1021.6,872.3 1024.5,873.1 1027.4,873.8 1030.3,874.5 1033.3,875.1 1036.2,875.7 1039.2,876.2 1042.1,876.7 1045.1,877.2 1048.0,877.7 1051.0,878.2 1054.0,878.7 1056.9,879.1 1059.9,879.5 1062.9,879.8 1065.9,880.1 1068.8,880.3 1071.8,880.4 1074.8,880.5 1077.8,880.6 1080.8,880.7 1083.8,880.8 1086.8,880.8 1089.8,880.9 1092.8,880.9 1095.8,880.9 1098.8,881.0 1101.8,881.0 1104.8,881.0 1107.9,881.1 1110.9,881.1 1113.9,881.1 1116.9,881.2 1119.9,881.2 1122.9,881.2 1125.9,881.2 1128.9,881.2 1131.9,881.3 1134.9,881.3 1137.9,881.3 1140.9,881.3 1143.9,881.3 1146.9,881.4 1149.9,881.4 1152.9,881.4 1155.9,881.4 1158.9,881.4 1161.9,881.4 1164.9,881.4 1167.9,881.5 1170.9,881.5 1173.9,881.5 1176.9,881.5 1179.9,881.5 1182.9,881.5 1185.9,881.5 1188.9,881.5 1191.9,881.5 1194.9,881.6 1197.9,881.6 1200.9,881.6 1203.9,881.6 1206.9,881.6 1209.9,881.6 1212.9,881.6 1215.9,881.6 1218.9,881.6 1221.9,881.6 1224.9,881.7 1227.9,881.7 1230.9,881.7 1233.9,881.7 1236.9,881.7 1239.9,881.7 1242.9,881.7 1245.9,881.7 1248.9,881.7 1251.9,881.7 1254.9,881.7 1257.9,881.7 1260.9,881.7 1263.9,881.8 1266.9,881.8 1269.9,881.8 1272.9,881.8 1275.9,881.8 1278.9,881.8 1281.9,881.8 1285.0,881.8 1288.0,881.8 1291.0,881.8 1294.0,881.8 1297.0,881.8 1300.0,881.8 1303.0,881.8 1306.0,881.8 1309.0,881.9 1312.0,881.9 1315.0,881.9 1318.0,881.9 1321.0,881.9 1324.0,881.9 1327.0,881.9 1330.0,881.9 1333.0,881.9 1336.0,881.9 1339.0,881.9 1342.0,881.9 1345.0,881.9 1348.0,881.9 1351.0,881.9 1354.0,882.0 1357.0,882.0 1360.0,882.0 1363.0,882.0 1366.0,882.0 1369.0,882.0" fill="none" stroke="#ff00ff" stroke-width="5.0"/>
<polyline points="690.5,812.4 692.1,809.9 693.7,807.3 695.1,804.7 696.5,802.1 697.9,799.4 699.2,796.7 700.5,794.0 701.8,791.3 703.1,788.6 704.3,785.8 705.5,783.1 706.8,780.4 707.9,777.6 709.0,774.8 710.1,772.0 711.1,769.2 712.0,766.3 712.8,763.5 713.6,760.6 714.4,757.7 715.1,754.7 715.7,751.8 716.4,748.9 717.1,746.0 717.8,743.1 718.5,740.1 719.2,737.2 719.9,734.3 720.6,731.4 721.4,728.5 722.1,725.6 722.8,722.7 723.6,719.8 724.3,716.8 725.0,713.9 725.7,711.0 726.5,708.1 727.2,705.2 728.0,702.3 728.8,699.4 729.6,696.5 730.4,693.6 731.2,690.7 732.1,687.9 732.9,685.0 733.8,682.1 734.6,679.2 735.4,676.3 736.2,673.4 737.0,670.5 737.7,667.6 738.4,664.7 739.1,661.8 739.8,658.9 740.4,655.9 741.1,653.0 741.7,650.1 742.3,647.1 743.0,644.2 743.6,641.3 744.2,638.3 744.8,635.4 745.4,632.4 746.0,629.5 746.6,626.6 747.2,623.6 747.8,620.7 748.5,617.8 749.2,614.9 750.0,612.0 750.8,609.1 751.7,606.2 752.6,603.4 753.6,600.5 754.5,597.7 755.4,594.8 756.4,592.0 757.3,589.1 758.2,586.3 759.2,583.4 760.2,580.6 761.3,577.8 762.4,575.0 763.5,572.2 764.7,569.5 766.0,566.8 767.4,564.1 768.8,561.5 770.3,558.9 771.9,556.4 773.5,553.8 775.1,551.3 776.8,548.8 778.4,546.3 780.0,543.8 781.6,541.2 783.2,538.7 784.8,536.1 786.2,533.5 787.7,530.9 789.2,528.3 790.7,525.7 792.2,523.2 793.9,520.8 795.8,518.5 797.8,516.4 800.0,514.4 802.3,512.5 804.7,510.9 807.2,509.4 809.8,508.3 812.5,507.4 815.2,507.0 817.9,507.0 820.6,507.4 823.2,508.3 825.7,509.5 828.1,511.1 830.4,512.9 832.5,514.9 834.5,517.1 836.3,519.4 837.9,521.9 839.5,524.4 841.0,527.0 842.4,529.7 843.7,532.4 845.0,535.1 846.3,537.8 847.5,540.5 848.8,543.2 850.0,546.0 851.3,548.7 852.5,551.4 853.7,554.2 854.9,556.9 856.0,559.7 857.1,562.5 858.1,565.3 859.2,568.1 860.2,571.0 861.2,573.8 862.1,576.6 863.1,579.5 864.1,582.3 865.0,585.2 866.0,588.0 866.9,590.9 867.9,593.7 868.8,596.6 869.8,599.4 870.7,602.3 871.7,605.1 872.6,608.0 873.5,610.8 874.5,613.7 875.4,616.5 876.3,619.4 877.3,622.2 878.3,625.0 879.4,627.8 880.5,630.6 881.6,633.4 882.7,636.2 883.9,638.9 885.1,641.7 886.4,644.4 887.6,647.2 888.8,649.9 889.9,652.7 891.1,655.5 892.2,658.3 893.3,661.1 894.3,663.9 895.3,666.7 896.3,669.5 897.3,672.4 898.2,675.2 899.1,678.1 900.1,680.9 901.0,683.8 902.0,686.6 902.9,689.5 903.9,692.3 904.9,695.1 905.9,698.0 906.9,700.8 907.9,703.6 908.9,706.4 909.9,709.3 910.8,712.1 911.8,715.0 912.8,717.8 913.7,720.7 914.6,723.5 915.6,726.4 916.5,729.2 917.5,732.1 918.5,734.9 919.4,737.7 920.4,740.6 921.4,743.4 922.4,746.2 923.4,749.1 924.5,751.9 925.5,754.7 926.6,757.5 927.6,760.3 928.7,763.1 929.8,765.9 930.8,768.7 931.9,771.5 933.0,774.3 934.2,777.1 935.3,779.9 936.4,782.6 937.6,785.4 938.8,788.2 940.0,790.9 941.2,793.7 942.4,796.4 943.7,799.1 945.0,801.8 946.3,804.5 947.6,807.2 949.0,809.9 950.4,812.5 951.9,815.1 953.4,817.7 955.0,820.3 956.6,822.8 958.2,825.3 959.9,827.8 961.6,830.2 963.4,832.6 965.3,835.0 967.2,837.3 969.1,839.6 971.2,841.8 973.2,844.0 975.3,846.1 977.5,848.2 979.7,850.2" fill="none" stroke="#ff00ff" stroke-width="7.5"/>
<polyline points="706.0,761.5 707.0,758.6 707.9,755.8 708.8,752.9 709.6,750.0 710.4,747.1 711.2,744.2 711.9,741.3 712.7,738.4 713.4,735.5 714.2,732.6 714.9,729.7 715.6,726.8 716.3,723.9 717.1,721.0 717.8,718.1 718.5,715.1 719.2,712.2 720.0,709.3 720.7,706.4 721.4,703.5 722.2,700.6 722.9,697.7 723.6,694.8 724.2,691.8 724.9,688.9 725.5,686.0 726.1,683.0 726.7,680.1 727.3,677.1 727.9,674.2 728.5,671.3 729.1,668.3 729.7,665.4 730.3,662.4 730.9,659.5 731.5,656.6 732.1,653.6 732.7,650.7 733.3,647.7 733.9,644.8 734.5,641.9 735.0,638.9 735.5,635.9 736.0,633.0 736.5,630.0 737.0,627.1 737.5,624.1 738.0,621.2 738.5,618.2 739.1,615.2 739.6,612.3 740.2,609.3 740.7,606.4 741.3,603.4 741.9,600.5 742.5,597.6 743.0,594.6 743.6,591.7 744.2,588.7 744.8,585.8 745.4,582.8 746.0,579.9 746.6,577.0 747.2,574.0 747.9,571.1 748.6,568.2 749.4,565.3 750.2,562.4 751.1,559.6 752.0,556.7 753.0,553.9 754.0,551.0 754.9,548.2 755.8,545.3 756.7,542.5 757.5,539.6 758.3,536.7 759.1,533.8 759.9,530.9 760.7,528.1 761.7,525.2 762.6,522.4 763.6,519.6 764.7,516.7 765.7,513.9 766.7,511.1 767.7,508.3 768.8,505.5 769.8,502.7 770.9,499.9 772.1,497.1 773.3,494.4 774.5,491.6 775.8,488.9 777.1,486.2 778.4,483.5 779.7,480.8 781.2,478.2 782.6,475.6 784.2,473.0 785.8,470.5 787.5,468.0 789.2,465.6 791.1,463.3 793.0,461.0 795.0,458.7 797.0,456.6 799.1,454.5 801.2,452.6 803.4,450.9 805.6,449.6 807.9,448.8 810.1,448.7 812.3,449.1 814.4,450.2 816.4,451.8 818.3,453.8 820.0,456.1 821.5,458.6 822.9,461.2 824.2,463.9 825.3,466.6 826.5,469.4 827.6,472.2 828.7,475.0 829.8,477.7 830.9,480.5 832.0,483.3 833.1,486.1 834.2,488.9 835.2,491.7 836.3,494.5 837.3,497.4 838.3,500.2 839.3,503.0 840.3,505.8 841.3,508.7 842.4,511.5 843.5,514.3 844.6,517.1 845.7,519.8 846.8,522.6 847.9,525.4 849.0,528.2 850.0,531.0 851.1,533.8 852.1,536.7 853.1,539.5 854.0,542.3 854.9,545.2 855.7,548.1 856.5,551.0 857.3,553.9 858.1,556.8 858.8,559.7 859.5,562.6 860.3,565.5 861.0,568.4 861.8,571.3 862.5,574.2 863.3,577.1 864.0,580.0 864.8,582.9 865.6,585.8 866.3,588.7 867.1,591.6 867.9,594.5 868.7,597.4 869.5,600.3 870.4,603.2 871.2,606.1 872.0,609.0 872.9,611.8 873.7,614.7 874.6,617.6 875.4,620.5 876.3,623.3 877.2,626.2 878.0,629.1 878.9,632.0 879.8,634.8 880.7,637.7 881.6,640.6 882.4,643.4 883.3,646.3 884.2,649.2 885.1,652.0 886.0,654.9 886.9,657.8 887.8,660.6 888.6,663.5 889.5,666.4 890.4,669.3 891.2,672.1 892.1,675.0 893.0,677.9 893.8,680.7 894.7,683.6 895.6,686.5 896.5,689.3 897.5,692.2 898.4,695.0 899.4,697.9 900.4,700.7 901.4,703.5 902.4,706.4 903.4,709.2 904.5,712.0 905.5,714.8 906.6,717.6 907.7,720.4 908.8,723.2 909.9,726.0 911.0,728.8 912.1,731.6 913.2,734.3 914.4,737.1 915.5,739.9 916.7,742.7 917.8,745.4 919.0,748.2 920.2,750.9 921.4,753.7 922.6,756.5 923.8,759.2 925.0,762.0 926.2,764.7 927.4,767.4 928.6,770.2 929.8,772.9 931.0,775.7 932.3,778.4 933.5,781.2 934.7,783.9 935.9,786.7 937.1,789.4 938.4,792.1 939.6,794.9 940.9,797.6 942.2,800.3 943.6,803.0 944.9,805.6 946.3,808.3 947.8,810.9 949.3,813.5 950.8,816.1 952.4,818.6 954.1,821.1 955.8,823.5 957.6,825.9 959.4,828.3 961.4,830.6 963.3,832.8 965.4,835.0 967.4,837.2 969.6,839.3 971.7,841.4 974.0,843.4 976.2,845.4 978.5,847.3 980.8,849.2 983.2,851.0 985.6,852.7 988.1,854.4 990.6,856.1 993.2,857.7 994.9,858.7" fill="none" stroke="#00ff00" stroke-width="5.0"/>
<polyline points="765.0,515.8 766.0,513.0 767.0,510.2 768.1,507.3 769.1,504.5 770.2,501.7 771.3,499.0 772.5,496.2 773.7,493.5 774.9,490.7 776.2,488.0 777.5,485.3 778.8,482.6 780.2,480.0 781.6,477.3 783.1,474.7 784.7,472.2 786.3,469.7 788.0,467.2 789.8,464.8 791.7,462.5 793.6,460.2 795.6,458.0 797.7,455.9 799.8,453.8 802.0,452.0 804.2,450.4 806.4,449.3 808.6,448.7 810.9,448.8 813.0,449.4 815.1,450.7 817.1,452.5 818.9,454.6 820.5,456.9 822.0,459.4 823.3,462.1 824.6,464.8 825.7,467.5 826.8,470.3 827.9,473.1 829.0,475.9 830.2,478.7 831.3,481.5 832.4,484.3 833.4,487.0 834.5,489.8 835.6,492.7 836.6,495.5 837.6,498.3 838.6,501.1 839.6,504.0 840.6,506.8 841.7,509.6 842.7,512.4 843.8,515.2 844.9,518.0 846.0,520.8 847.2,523.6 848.3,526.3 849.3,529.1 850.4,532.0 851.4,534.8 852.4,537.6 853.4,540.4 854.3,543.3 855.2,546.2 856.0,549.1 856.8,551.9 857.5,554.8 858.3,557.8 859.0,560.7 859.8,563.6 860.5,566.5 861.3,569.4 862.0,572.3 862.8,575.2 863.5,578.1 864.3,581.0 865.0,583.9 865.8,586.8 866.6,589.7 867.4,592.6 868.2,595.5 869.0,598.4 869.8,601.3 870.6,604.2 871.5,607.0 872.3,609.9 873.1,612.8 874.0,615.7 874.9,618.6 875.7,621.4 876.6,624.3 877.5,627.2 878.3,630.0 879.2,632.9 880.1,635.8 881.0,638.7 881.9,641.5 882.7,644.4 883.6,647.3 884.5,650.1 885.4,653.0 886.3,655.9 887.2,658.7 888.0,661.6 888.9,664.5 889.8,667.3 890.7,670.2 891.5,673.1 892.4,676.0 893.3,678.8 894.1,681.7 895.0,684.6 895.9,687.4 896.8,690.3 897.8,693.1 898.7,696.0 899.7,698.8 900.7,701.7 901.7,704.5 902.7,707.3 903.8,710.1 904.8,712.9 905.9,715.7 907.0,718.5 908.0,721.3 909.1,724.1 910.3,726.9 911.4,729.7 912.5,732.5 913.6,735.3 914.8,738.0 915.9,740.8 917.1,743.6 918.2,746.3 919.4,749.1 920.6,751.9 921.8,754.6 923.0,757.4 924.2,760.1 925.4,762.9 926.6,765.6 927.8,768.4 929.0,771.1 930.2,773.9 931.5,776.6 932.7,779.3 933.9,782.1 935.1,784.8 936.3,787.6 937.5,790.3 938.8,793.0 940.1,795.8 941.3,798.5 942.7,801.2 944.0,803.8 945.4,806.5 946.8,809.2 948.3,811.8 949.8,814.4 951.3,816.9 952.9,819.4 954.6,821.9 956.4,824.3 958.2,826.7 960.1,829.1 962.0,831.3 964.0,833.6 966.0,835.8 968.1,837.9 970.3,840.0 972.5,842.0 974.7,844.1" fill="none" stroke="#00ff00" stroke-width="7.5"/>
<defs><marker id="mtri" markerWidth="10" markerHeight="10" refX="5" refY="5" markerUnits="userSpaceOnUse" overflow="visible"><path d="M5,1.2 L8.8,7.6 L1.2,7.6 Z" fill="#000080"/></marker><marker id="mplus" markerWidth="10" markerHeight="10" refX="5" refY="5" markerUnits="userSpaceOnUse" overflow="visible"><path d="M1.8,5 H8.2 M5,1.8 V8.2" stroke="#800080" stroke-width="1.8" fill="none"/></marker></defs>
<polyline points="184.0,879.0 187.0,879.0 190.0,879.0 193.0,879.0 196.0,879.0 199.0,879.0 202.0,879.0 205.0,879.1 208.0,879.1 211.0,879.1 214.0,879.1 217.0,879.1 220.0,879.1 223.0,879.1 226.0,879.1 229.0,879.2 232.0,879.2 235.0,879.2 238.0,879.2 241.0,879.2 244.0,879.2 247.0,879.2 250.0,879.2 253.0,879.2 256.0,879.2 259.0,879.2 262.0,879.2 265.0,879.2 268.0,879.2 271.0,879.2 274.0,879.2 277.0,879.2 280.0,879.2 283.0,879.2 286.0,879.2 289.0,879.2 292.0,879.2 295.0,879.2 298.0,879.1 301.0,879.1 304.0,879.1 307.0,879.1 310.0,879.0 313.1,879.0 316.1,879.0 319.1,878.9 322.1,878.9 325.1,878.9 328.1,878.8 331.1,878.8 334.1,878.7 337.1,878.7 340.1,878.6 343.1,878.6 346.1,878.5 349.1,878.4 352.1,878.4 355.1,878.3 358.1,878.3 361.1,878.2 364.1,878.1 367.1,878.1 370.1,878.0 373.1,877.9 376.1,877.9 379.1,877.8 382.1,877.7 385.1,877.7 388.1,877.6 391.1,877.5 394.1,877.4 397.1,877.4 400.1,877.3 403.1,877.2 406.1,877.1 409.1,877.1 412.1,877.0 415.1,876.9 418.1,876.8 421.1,876.7 424.1,876.7 427.1,876.6 430.1,876.5 433.1,876.4 436.1,876.4 439.1,876.3 442.1,876.2 445.1,876.1 448.1,876.1 451.1,876.0 454.1,875.9 457.1,875.8 460.1,875.8 463.1,875.7 466.1,875.7 469.1,875.6 472.1,875.5 475.1,875.5 478.1,875.4 481.1,875.4 484.1,875.3 487.1,875.2 490.1,875.1 493.1,874.9 496.1,874.7 499.1,874.5 502.0,874.2 505.0,873.8 508.0,873.4 510.9,873.0 513.9,872.4 516.9,871.9 519.8,871.3 522.7,870.8 525.7,870.3 528.7,869.8 531.6,869.4 534.6,869.0 537.6,868.7 540.6,868.4 543.6,868.1 546.6,867.9 549.6,867.6 552.5,867.4 555.5,867.1 558.5,866.9 561.5,866.6 564.5,866.3 567.5,866.1 570.5,865.8 573.5,865.5 576.5,865.2 579.4,864.9 582.4,864.6 585.4,864.3 588.4,864.1 591.4,863.8 594.4,863.5 597.4,863.2 600.4,862.9 603.3,862.7 606.3,862.4 609.3,862.2 612.3,862.0 615.3,861.8 618.3,861.6 621.3,861.4 624.3,861.1 627.3,860.9 630.3,860.6 633.3,860.3 636.2,860.0 639.2,859.7 642.2,859.4 645.2,859.0 648.2,858.7 651.2,858.3 654.1,857.9 657.1,857.5 660.1,857.0 663.0,856.5 666.0,855.9 668.9,855.2 671.8,854.5 674.7,853.8 677.6,853.0 680.5,852.2 683.4,851.4 686.2,850.5 689.1,849.6 692.0,848.7 694.8,847.7 697.6,846.7 700.4,845.6 703.1,844.4 705.8,843.1 708.5,841.7 711.1,840.2 713.6,838.6 716.1,836.9 718.5,835.2 720.9,833.3 723.1,831.4 725.3,829.3 727.3,827.1 729.3,824.9 731.2,822.6 733.0,820.2 734.7,817.7 736.4,815.2 738.0,812.7 739.5,810.1 741.0,807.5 742.4,804.9 743.7,802.2 745.0,799.4 746.1,796.7 747.3,793.9 748.4,791.1 749.4,788.3 750.4,785.5 751.4,782.6 752.3,779.8 753.2,776.9 754.1,774.1 755.0,771.2 755.9,768.3 756.8,765.5 757.6,762.6 758.4,759.7 759.2,756.8 760.0,753.9 760.7,751.0 761.5,748.1 762.2,745.2 762.9,742.2 763.5,739.3 764.2,736.4 764.8,733.5 765.4,730.5 766.0,727.6 766.5,724.6 767.1,721.7 767.6,718.7 768.1,715.8 768.6,712.8 768.9,710.8" fill="none" stroke="#000080" stroke-width="5"/>
<polyline points="700.4,845.6 703.1,844.4 705.8,843.1 708.5,841.7 711.1,840.2 713.6,838.6 716.1,836.9 718.5,835.2 720.9,833.3 723.1,831.4 725.3,829.3 727.3,827.1 729.3,824.9 731.2,822.6 733.0,820.2 734.7,817.7 736.4,815.2 738.0,812.7 739.5,810.1 741.0,807.5 742.4,804.9 743.7,802.2 745.0,799.4 746.1,796.7 747.3,793.9 748.4,791.1 749.4,788.3 750.4,785.5 751.4,782.6 752.3,779.8 753.2,776.9 754.1,774.1 755.0,771.2 755.9,768.3 756.8,765.5 757.6,762.6 758.4,759.7 759.2,756.8 760.0,753.9 760.7,751.0 761.5,748.1 762.2,745.2 762.9,742.2 763.5,739.3 764.2,736.4 764.8,733.5 765.4,730.5 766.0,727.6 766.5,724.6 767.1,721.7 767.6,718.7 768.1,715.8 768.6,712.8 768.9,710.8" fill="none" stroke="#000080" stroke-width="6"/>
<polyline points="811.0,462.7 812.0,459.9 813.0,457.1 814.2,454.4 815.6,451.8 817.3,449.5 819.3,447.5 821.5,446.0 823.9,445.0 826.4,444.8 828.8,445.3 831.1,446.5 833.2,448.3 835.1,450.5 836.9,452.8 838.6,455.3 840.3,457.7 842.1,460.1 843.9,462.5 845.6,464.9 847.3,467.4 849.0,469.9 850.7,472.4 852.3,474.9 854.0,477.3 855.6,479.8 857.2,482.4 858.7,485.0 860.1,487.6 861.4,490.3 862.6,493.0 864.0,495.7 865.3,498.4 866.8,501.0 868.3,503.6 869.9,506.2 871.4,508.7 873.0,511.3 874.5,513.9 876.1,516.4 877.6,519.0 879.2,521.5 880.9,524.1 882.5,526.6 884.1,529.1 885.7,531.6 887.3,534.2 888.8,536.8 890.3,539.4 891.8,542.0 893.2,544.6 894.6,547.3 896.0,549.9 897.3,552.6 898.6,555.4 899.8,558.1 901.0,560.8 902.2,563.6 903.4,566.3 904.6,569.1 905.9,571.8 907.2,574.5 908.5,577.2 909.8,579.9 911.0,582.6 912.3,585.4 913.4,588.1 914.6,590.9 915.7,593.7 916.8,596.5 917.9,599.3 918.9,602.1 919.9,604.9 920.8,607.8 921.7,610.6 922.6,613.5 923.4,616.4 924.2,619.3 925.0,622.2 925.7,625.1 926.5,628.0 927.3,630.9 928.1,633.8 929.0,636.7 929.9,639.5 930.8,642.4 931.9,645.2 932.9,648.0 934.0,650.8 935.1,653.6 936.1,656.4 937.1,659.2 938.1,662.1 939.1,664.9 940.0,667.8 940.9,670.6 941.8,673.5 942.7,676.3 943.6,679.2 944.5,682.1 945.4,684.9 946.3,687.8 947.3,690.6 948.2,693.5 949.1,696.3 950.1,699.2 951.0,702.0 951.9,704.9 952.9,707.8 953.8,710.6 954.7,713.5 955.5,716.3 956.4,719.2 957.3,722.1 958.2,724.9 959.1,727.8 960.1,730.6 961.0,733.5 962.0,736.3 963.0,739.2 964.0,742.0 965.0,744.8 966.1,747.6 967.2,750.4 968.3,753.2 969.4,756.0 970.6,758.8 971.7,761.5 972.9,764.3 974.1,767.0 975.3,769.8 976.5,772.5 977.7,775.3 979.0,778.0 980.2,780.7 981.5,783.4 982.8,786.2 984.1,788.9 985.4,791.6 986.7,794.2 988.1,796.9 989.4,799.6 990.8,802.3 992.2,805.0 993.6,807.6 995.0,810.3 996.4,812.9 997.9,815.5 999.3,818.1 1000.8,820.7 1002.3,823.3 1003.9,825.9 1005.5,828.4 1007.1,830.9 1008.8,833.4 1010.5,835.9 1012.3,838.3 1014.0,840.8 1015.9,843.1 1017.7,845.5 1019.6,847.8 1021.5,850.1 1023.5,852.4 1025.6,854.5 1027.7,856.6 1030.0,858.6 1032.3,860.5 1034.7,862.3 1037.2,863.9 1039.7,865.5 1042.3,867.1 1044.9,868.5 1047.6,869.9 1050.3,871.2 1053.0,872.4 1055.8,873.6 1058.5,874.7 1061.4,875.7 1064.2,876.6 1067.1,877.5 1070.0,878.4 1072.8,879.1 1075.7,879.8 1078.6,880.3 1081.5,880.7 1084.3,881.0 1087.2,881.2 1090.1,881.3 1093.0,881.4 1095.9,881.4 1098.9,881.4 1101.9,881.5 1104.9,881.5 1107.9,881.5 1110.9,881.5 1113.9,881.5 1116.9,881.5 1119.9,881.5 1122.9,881.5 1125.9,881.5 1128.9,881.5 1131.9,881.5 1134.9,881.5 1137.9,881.5 1140.9,881.5 1143.9,881.5 1146.9,881.5 1149.9,881.5 1152.9,881.5 1155.9,881.5 1158.9,881.5 1161.9,881.5 1164.9,881.5 1167.9,881.5 1170.9,881.5 1173.9,881.5 1176.9,881.5 1179.9,881.5 1182.9,881.5 1185.9,881.5 1188.9,881.5 1191.9,881.5 1194.9,881.5 1197.9,881.5 1200.9,881.5 1203.9,881.5 1206.9,881.5 1209.9,881.5 1212.9,881.5 1215.9,881.5 1218.9,881.5 1221.9,881.5 1224.9,881.5 1227.9,881.5 1230.9,881.5 1233.9,881.5 1236.9,881.5 1239.9,881.5 1243.0,881.5 1246.0,881.5 1249.0,881.5 1252.0,881.5 1255.0,881.5 1258.0,881.5 1261.0,881.5 1264.0,881.5 1267.0,881.5 1270.0,881.5 1273.0,881.5 1276.0,881.5 1279.0,881.5 1282.0,881.5 1285.0,881.5 1288.0,881.5 1291.0,881.5 1294.0,881.5 1297.0,881.5 1300.0,881.5 1303.0,881.5 1306.0,881.5 1309.0,881.5 1312.0,881.5 1315.0,881.5 1318.0,881.5 1321.0,881.5 1324.0,881.5 1327.0,881.5 1330.0,881.5 1333.0,881.5 1336.0,881.5 1339.0,881.5 1342.0,881.5 1345.0,881.5 1348.0,881.5 1351.0,881.5 1354.0,881.5 1357.0,881.5 1360.0,881.5 1363.0,881.5 1366.0,881.5 1369.0,881.5" fill="none" stroke="#000080" stroke-width="5"/>
<polyline points="811.0,462.7 812.0,459.9 813.0,457.1 814.2,454.4 815.6,451.8 817.3,449.5 819.3,447.5 821.5,446.0 823.9,445.0 826.4,444.8 828.8,445.3 831.1,446.5 833.2,448.3 835.1,450.5 836.9,452.8 838.6,455.3 840.3,457.7 842.1,460.1 843.9,462.5 845.6,464.9 847.3,467.4 849.0,469.9 850.7,472.4 852.3,474.9 854.0,477.3 855.6,479.8 857.2,482.4 858.7,485.0 860.1,487.6 861.4,490.3 862.6,493.0 864.0,495.7 865.3,498.4 866.8,501.0 868.3,503.6 869.9,506.2 871.4,508.7 873.0,511.3 874.5,513.9 876.1,516.4 877.6,519.0 879.2,521.5 880.9,524.1 882.5,526.6 884.1,529.1 885.7,531.6 887.3,534.2 888.8,536.8 890.3,539.4 891.8,542.0 893.2,544.6 894.6,547.3 896.0,549.9 897.3,552.6 898.6,555.4 899.8,558.1 901.0,560.8 902.2,563.6 903.4,566.3 904.6,569.1 905.9,571.8 907.2,574.5 908.5,577.2 909.8,579.9 911.0,582.6 912.3,585.4 913.4,588.1 914.6,590.9 915.7,593.7 916.8,596.5 917.9,599.3 918.9,602.1 919.9,604.9 920.8,607.8 921.7,610.6 922.6,613.5 923.4,616.4 924.2,619.3 925.0,622.2 925.7,625.1 926.5,628.0 927.3,630.9 928.1,633.8 929.0,636.7 929.9,639.5 930.8,642.4 931.9,645.2 932.9,648.0 934.0,650.8 935.1,653.6 936.1,656.4 937.1,659.2 938.1,662.1 939.1,664.9 940.0,667.8 940.9,670.6 941.8,673.5 942.7,676.3 943.6,679.2 944.5,682.1 945.4,684.9 946.3,687.8 947.3,690.6 948.2,693.5 949.1,696.3 950.1,699.2 951.0,702.0 951.9,704.9 952.9,707.8 953.8,710.6 954.7,713.5 955.5,716.3 956.4,719.2 957.3,722.1 958.2,724.9 959.1,727.8 960.1,730.6 961.0,733.5 962.0,736.3 963.0,739.2 964.0,742.0 965.0,744.8 966.1,747.6 967.2,750.4 968.3,753.2 969.4,756.0 970.6,758.8 971.7,761.5 972.9,764.3 974.1,767.0 975.3,769.8 976.5,772.5 977.7,775.3 979.0,778.0 980.2,780.7 981.5,783.4 982.8,786.2 984.1,788.9 985.4,791.6 986.7,794.2 988.1,796.9 989.4,799.6 990.8,802.3 992.2,805.0 993.6,807.6 995.0,810.3 996.4,812.9 997.9,815.5 999.3,818.1 1000.8,820.7 1002.3,823.3 1003.9,825.9 1005.5,828.4 1007.1,830.9 1008.8,833.4 1010.5,835.9 1012.3,838.3 1014.0,840.8 1015.9,843.1 1017.7,845.5 1019.6,847.8 1021.5,850.1 1023.5,852.4 1025.6,854.5 1027.7,856.6 1030.0,858.6 1032.3,860.5 1034.7,862.3 1037.2,863.9 1039.7,865.5" fill="none" stroke="#000080" stroke-width="6.5"/>
<polyline points="814.2,454.4 815.6,451.8 817.3,449.5 819.3,447.5 821.5,446.0 823.9,445.0 826.4,444.8 828.8,445.3 831.1,446.5 833.2,448.3 835.1,450.5 836.9,452.8 838.6,455.3 840.3,457.7 842.1,460.1 843.9,462.5 845.6,464.9 847.3,467.4 849.0,469.9 850.7,472.4 852.3,474.9 854.0,477.3 855.6,479.8 857.2,482.4 858.7,485.0 860.1,487.6 861.4,490.3 862.6,493.0 864.0,495.7 865.3,498.4 866.8,501.0 868.3,503.6 869.9,506.2 871.4,508.7 873.0,511.3 874.5,513.9 876.1,516.4 877.6,519.0 879.2,521.5 880.9,524.1 882.5,526.6 884.1,529.1 884.6,530.0" fill="none" stroke="#000080" stroke-width="9"/>
<polyline points="766.0,727.4 768.1,715.5 770.3,699.8 772.4,686.3 774.6,674.7 776.7,662.2 778.9,647.6 781.0,635.9 783.2,621.0 785.3,606.1 787.5,593.3 789.6,572.2 791.8,558.9 793.9,545.5 796.1,535.4 798.2,523.4 800.4,510.0 802.5,499.5 804.7,487.5 806.8,478.2 809.0,470.0 811.1,462.4 813.3,456.4" fill="none" stroke="none" marker-start="url(#mtri)" marker-mid="url(#mtri)" marker-end="url(#mtri)"/>
<polyline points="184.0,877.0 187.0,877.0 190.0,877.0 193.0,877.0 196.0,877.0 199.0,877.0 202.0,877.1 205.0,877.1 208.0,877.1 211.0,877.1 214.0,877.1 217.0,877.1 220.0,877.1 223.0,877.2 226.0,877.2 229.0,877.2 232.0,877.2 235.0,877.2 238.0,877.2 241.0,877.2 244.0,877.2 247.0,877.2 250.0,877.2 253.0,877.2 256.0,877.2 259.0,877.3 262.0,877.3 265.0,877.3 268.0,877.3 271.0,877.3 274.0,877.2 277.0,877.2 280.0,877.2 283.0,877.2 286.0,877.2 289.0,877.2 292.0,877.2 295.0,877.2 298.0,877.2 301.0,877.1 304.0,877.1 307.0,877.1 310.0,877.1 313.0,877.0 316.0,877.0 319.0,876.9 322.0,876.9 325.0,876.8 328.0,876.8 331.0,876.7 334.0,876.7 337.0,876.6 340.0,876.5 343.0,876.5 346.0,876.4 349.0,876.3 352.0,876.3 355.0,876.2 358.0,876.1 361.0,876.0 364.0,876.0 367.0,875.9 370.0,875.8 373.0,875.7 376.0,875.6 379.0,875.6 382.0,875.5 385.0,875.4 388.0,875.3 391.0,875.2 394.0,875.1 397.0,875.0 400.0,874.9 403.0,874.8 406.0,874.8 409.0,874.7 412.0,874.6 415.0,874.5 418.0,874.4 421.0,874.3 424.0,874.2 427.0,874.1 430.0,874.0 433.0,874.0 436.0,873.9 439.0,873.8 442.0,873.7 445.0,873.6 448.0,873.6 451.0,873.5 454.0,873.4 457.0,873.3 460.0,873.3 463.0,873.2 466.0,873.1 469.0,873.1 472.0,873.0 475.0,872.9 478.0,872.9 481.0,872.8 484.0,872.8 487.0,872.7 490.0,872.6 493.0,872.6 496.0,872.5 499.0,872.5 502.0,872.4 505.0,872.3 508.0,872.3 511.0,872.2 514.0,872.1 517.0,872.1 520.0,872.0 523.0,871.9 526.0,871.8 529.0,871.7 532.0,871.7 535.0,871.6 538.0,871.5 541.0,871.4 544.0,871.3 547.0,871.2 550.0,871.1 553.0,870.9 556.0,870.8 559.0,870.7 562.0,870.5 564.9,870.4 567.9,870.2 570.9,870.1 573.9,869.9 576.9,869.8 579.9,869.6 582.9,869.4 585.9,869.2 588.9,869.1 591.9,868.9 594.9,868.7 597.9,868.5 600.9,868.3 603.9,868.1 606.9,867.8 609.9,867.6 612.9,867.4 615.8,867.1 618.8,866.8 621.8,866.5 624.8,866.2 627.8,865.8 630.8,865.5 633.7,865.1 636.7,864.8 639.7,864.4 642.7,864.0 645.6,863.6 648.6,863.2 651.6,862.8 654.6,862.3 657.5,861.9 660.5,861.4 663.4,860.9 666.4,860.3 669.3,859.8 672.3,859.1 675.2,858.5 678.1,857.8 681.0,857.0 683.9,856.2 686.8,855.4 689.6,854.5 692.5,853.6 695.3,852.6 698.1,851.5 700.9,850.3 703.6,849.1 706.2,847.6 708.8,846.1 711.3,844.5 713.7,842.8 716.2,841.0 718.5,839.2 720.7,837.2 722.9,835.1 725.0,833.0 726.9,830.7 728.8,828.4 730.6,826.0 732.2,823.5 733.8,820.9 735.2,818.3 736.6,815.6 737.9,812.9 739.1,810.2 740.3,807.5 741.5,804.7 742.7,802.0 743.9,799.2 745.1,796.5 746.3,793.7 747.4,790.9 748.5,788.1 749.6,785.3 750.6,782.5 751.5,779.7 752.5,776.8 753.4,774.0 754.3,771.1 755.2,768.2 756.1,765.4 756.9,762.5 757.7,759.6 758.6,756.7 759.3,753.8 760.1,750.9 760.8,748.0 761.6,745.1 762.3,742.2 763.0,739.3 763.7,736.4 764.5,733.5 765.0,731.5" fill="none" stroke="#800080" stroke-width="4.5"/>
<polyline points="760.1,750.9 760.8,748.0 761.6,745.1 762.3,742.2 763.0,739.3 763.7,736.4 764.5,733.5 765.2,730.5 766.0,727.6 766.7,724.7 767.4,721.8 768.1,718.9 768.7,716.0 769.3,713.0 769.9,710.1 770.5,707.1 771.0,704.2 771.5,701.2 772.0,698.3 772.6,695.3 773.1,692.4 773.7,689.5 774.4,686.5 775.0,683.6 775.7,680.7 776.3,677.7 777.0,674.8 777.7,671.9 778.4,669.0 779.1,666.1 779.7,663.1 780.4,660.2 781.0,657.3 781.7,654.4 782.4,651.4 783.1,648.5 783.8,645.6 784.4,642.7 784.9,639.7 785.4,636.8 785.8,633.8 786.2,630.9 786.8,627.9 787.4,625.0 788.1,622.1 788.9,619.2 789.6,616.3 790.3,613.4 791.0,610.5 791.7,607.6 792.4,604.6 793.0,601.7 793.6,598.8 794.1,595.8 794.5,592.9 795.0,589.9 795.5,587.0 796.0,584.0 796.8,581.1 797.6,578.2 798.4,575.4 799.4,572.5 800.3,569.7 801.2,566.8 802.1,564.0 803.0,561.1 803.7,558.2 804.4,555.3 804.9,552.3 805.5,549.4 806.0,546.4 806.6,543.5 807.1,540.5 807.8,537.6 808.5,534.7 809.2,531.8 810.0,528.9 810.8,526.0 811.7,523.1 812.6,520.3 813.5,517.4 814.5,514.6 815.5,511.8 816.6,509.0 817.7,506.2 818.8,503.4 819.8,500.6 820.8,497.8 821.6,494.9 822.5,492.0 823.4,489.2 824.4,486.4 825.5,483.6 826.6,480.8 827.9,478.1 829.2,475.4 830.5,472.7 831.9,470.0 833.3,467.4 834.9,464.9 836.5,462.4 838.2,460.0 840.0,457.6 841.8,455.3 843.7,453.2 845.8,451.4 848.0,450.2 850.4,449.7" fill="none" stroke="#b060b0" stroke-width="1.6" stroke-dasharray="5 3"/>
<polyline points="849.6,449.8 852.0,449.8 854.4,450.7 856.6,452.2 858.6,454.1 860.5,456.3 862.3,458.7 863.8,461.3 865.3,463.9 866.6,466.6 867.8,469.3 868.9,472.1 870.0,474.9 871.1,477.6 872.2,480.4 873.4,483.2 874.6,485.9 875.9,488.6 877.2,491.3 878.4,494.0 879.6,496.8 880.7,499.6 881.7,502.4 882.6,505.2 883.5,508.1 884.3,511.0 885.1,513.9 885.8,516.8 886.5,519.7 887.1,522.6 887.8,525.6 888.4,528.5 889.1,531.4 889.9,534.3 890.8,537.2 891.7,540.0 892.8,542.8 893.8,545.6 894.9,548.4 896.0,551.2 897.1,554.0 898.2,556.8 899.2,559.6 900.3,562.4 901.3,565.3 902.2,568.1 903.2,570.9 904.1,573.8 905.0,576.7 905.8,579.5 906.8,582.4 907.7,585.2 908.7,588.1 909.7,590.9 910.8,593.7 911.9,596.5 912.9,599.3 913.9,602.1 914.9,605.0 915.8,607.8 916.7,610.7 917.5,613.6 918.3,616.5 919.1,619.4 919.8,622.3 920.6,625.2 921.3,628.1 922.1,631.0 922.9,633.9 923.8,636.7 924.7,639.6 925.6,642.4 926.7,645.2 927.7,648.0 928.8,650.8 929.9,653.6 931.0,656.4 932.0,659.3 932.9,662.1 933.9,665.0 934.8,667.8 935.6,670.7 936.5,673.6 937.4,676.4 938.3,679.3 939.2,682.2 940.1,685.0 941.1,687.8 942.0,690.7 943.1,693.5 944.1,696.3 945.1,699.1 946.1,702.0 947.1,704.8 948.1,707.6 949.0,710.5 950.0,713.3" fill="none" stroke="#8a2a8a" stroke-width="3" stroke-dasharray="6 3"/>
<polyline points="940.1,685.0 941.1,687.8 942.0,690.7 943.1,693.5 944.1,696.3 945.1,699.1 946.1,702.0 947.1,704.8 948.1,707.6 949.0,710.5 950.0,713.3 950.9,716.2 951.9,719.0 952.9,721.9 953.8,724.7 954.8,727.5 955.8,730.4 956.7,733.2 957.7,736.0 958.7,738.9 959.8,741.7 960.8,744.5 961.8,747.3 962.9,750.1 963.9,753.0 964.9,755.8 966.0,758.6 967.1,761.4 968.1,764.2 969.2,767.0 970.3,769.8 971.4,772.6 972.5,775.3 973.7,778.1 974.9,780.9 976.1,783.6 977.3,786.4 978.6,789.1 979.9,791.8 981.2,794.5 982.6,797.1 984.0,799.8 985.4,802.4 986.9,805.1 988.3,807.7 989.9,810.2 991.4,812.8 993.0,815.4 994.6,817.9 996.3,820.4 997.9,822.9 999.7,825.3 1001.5,827.7 1003.3,830.1 1005.2,832.4 1007.1,834.7 1009.1,837.0 1011.1,839.2 1013.2,841.3 1015.3,843.4 1017.5,845.5 1019.8,847.4 1022.1,849.3 1024.5,851.1 1027.0,852.8 1029.5,854.4 1032.1,855.8 1034.8,857.2 1037.5,858.5 1040.2,859.7 1043.0,860.9 1045.8,862.0 1048.6,863.0 1051.4,863.9 1054.3,864.8 1057.2,865.6 1060.1,866.5 1062.9,867.3 1065.8,868.2 1068.7,869.1 1071.5,870.0 1074.4,870.9 1077.2,871.9 1080.1,872.8 1082.9,873.7 1085.8,874.6 1088.7,875.5 1091.6,876.3 1094.5,877.0 1097.4,877.7 1100.3,878.3 1103.3,878.8 1106.2,879.3 1109.2,879.8 1112.1,880.3 1115.1,880.7 1118.1,881.1 1121.1,881.4 1124.1,881.7 1127.0,882.0 1130.0,882.3 1133.0,882.5 1136.0,882.7 1139.0,882.9 1142.0,883.1 1145.0,883.2 1148.0,883.4 1151.0,883.5 1154.0,883.6 1157.0,883.7 1160.0,883.8 1163.0,883.9 1166.0,884.0 1169.0,884.0 1172.0,884.1 1175.0,884.2 1178.0,884.2 1181.0,884.3 1184.0,884.3 1187.0,884.3 1190.0,884.4 1193.0,884.4 1196.0,884.5 1199.0,884.5 1202.0,884.5 1205.0,884.5 1208.0,884.6 1211.0,884.6 1214.0,884.6 1217.0,884.7 1220.0,884.7 1223.0,884.7 1226.0,884.7 1229.0,884.7 1232.0,884.8 1235.0,884.8 1238.0,884.8 1241.0,884.8 1244.0,884.8 1247.0,884.9 1250.0,884.9 1253.0,884.9 1256.0,884.9 1259.0,884.9 1262.0,885.0 1265.0,885.0 1268.0,885.0 1271.0,885.0 1274.0,885.0 1277.0,885.0 1280.0,885.0 1283.0,885.1 1286.0,885.1 1289.0,885.1 1292.0,885.1 1295.0,885.1 1298.0,885.1 1301.0,885.2 1304.0,885.2 1307.0,885.2 1310.0,885.2 1313.0,885.2 1316.0,885.2 1319.0,885.2 1322.0,885.3 1325.0,885.3 1328.0,885.3 1331.0,885.3 1334.0,885.3 1337.0,885.3 1340.0,885.4 1343.0,885.4 1346.0,885.4 1349.0,885.4 1352.0,885.4 1355.0,885.4 1358.0,885.4 1361.0,885.5 1364.0,885.5 1367.0,885.5 1369.0,885.5" fill="none" stroke="#800080" stroke-width="4.5"/>
<polyline points="764.0,735.2 766.4,725.9 768.8,715.5 771.2,703.1 773.6,690.1 776.0,679.3 778.4,668.9 780.8,658.3 783.2,648.1 785.6,635.0 788.0,622.6 790.4,612.9 792.8,602.8 795.2,588.4 797.6,578.1 800.0,570.6 802.4,563.1 804.8,553.0 807.2,540.3 809.6,530.3 812.0,522.1 814.4,514.9 816.8,508.5 819.2,502.3 821.6,495.1 824.0,487.5 826.4,481.4 828.8,476.1 831.2,471.3 833.6,467.0 836.0,463.2 838.4,459.8 840.8,456.6 843.2,453.7 845.6,451.5 848.0,450.2" fill="none" stroke="none" marker-start="url(#mplus)" marker-mid="url(#mplus)" marker-end="url(#mplus)"/>
<path d="M879.0,121.5 C880.2,121.8 883.8,121.7 886.0,123.0 C888.2,124.3 890.1,126.8 892.0,129.5 C893.9,132.2 895.8,135.8 897.5,139.0 C899.2,142.2 900.6,145.5 902.0,149.0 C903.4,152.5 904.7,156.0 906.0,160.0 C907.3,164.0 908.7,168.5 910.0,173.0 C911.3,177.5 912.8,182.3 914.0,187.0 C915.2,191.7 916.3,196.3 917.5,201.0 C918.7,205.7 919.8,210.2 921.0,215.0 C922.2,219.8 923.3,225.0 924.5,230.0 C925.7,235.0 926.8,239.7 928.0,245.0 C929.2,250.3 930.3,256.3 931.5,262.0 C932.7,267.7 933.8,273.2 935.0,279.0 C936.2,284.8 937.3,291.2 938.5,297.0 C939.7,302.8 940.8,308.2 942.0,314.0 C943.2,319.8 943.9,324.0 945.5,332.0 C947.1,340.0 949.6,352.3 951.5,362.0 C953.4,371.7 955.2,380.8 957.0,390.0 C958.8,399.2 960.6,407.5 962.5,417.0 C964.4,426.5 966.5,436.7 968.5,447.0 C970.5,457.3 972.7,468.5 974.8,479.0 C976.9,489.5 979.0,500.5 981.0,510.0 C983.0,519.5 985.0,527.7 987.0,536.0 C989.0,544.3 991.0,552.0 993.0,560.0 C995.0,568.0 995.7,570.3 999.3,584.0 C1002.9,597.7 1009.4,622.7 1014.5,642.0 C1019.6,661.3 1025.2,684.0 1029.8,700.0 C1034.3,716.0 1038.1,726.7 1041.8,738.0 C1045.5,749.3 1048.7,759.3 1052.0,767.9 C1055.3,776.5 1058.4,782.7 1061.6,789.5 C1064.8,796.3 1067.5,802.2 1071.1,808.6 C1074.7,815.0 1079.1,821.8 1083.1,827.8 C1087.1,833.8 1091.9,840.7 1095.1,844.6 C1098.2,848.5 1100.8,849.9 1102.0,851.0" stroke="#000" stroke-width="5"/>
<path d="M1102,851 L1369,851" stroke="#000" stroke-width="5" stroke-linecap="butt"/>
<path d="M787.6,797.4 C788.1,795.8 789.6,791.7 790.5,788.0 C791.4,784.3 792.2,780.2 793.0,775.0 C793.8,769.8 794.3,763.2 795.0,757.0 C795.7,750.8 796.2,744.7 797.0,738.0 C797.8,731.3 798.7,723.3 799.5,717.0 C800.3,710.7 801.1,708.7 802.0,700.0 C802.9,691.3 804.0,676.3 805.0,665.0 C806.0,653.7 807.0,640.2 808.0,632.0 C809.0,623.8 810.0,621.3 810.7,616.0 C811.4,610.7 811.5,605.2 812.0,600.0 C812.5,594.8 813.3,591.7 813.7,585.0 C814.1,578.3 814.1,567.5 814.5,560.0 C814.9,552.5 815.4,546.2 816.0,540.0 C816.6,533.8 817.3,530.5 818.0,523.0 C818.7,515.5 819.2,502.7 820.0,495.0 C820.8,487.3 822.0,485.3 823.0,477.0 C824.0,468.7 825.1,455.0 826.0,445.0 C826.9,435.0 827.5,425.3 828.3,417.0 C829.1,408.7 830.0,403.3 830.9,395.0 C831.8,386.7 832.5,376.0 833.5,367.0 C834.5,358.0 835.6,349.8 836.6,341.0 C837.6,332.2 838.4,322.5 839.3,314.0 C840.2,305.5 841.0,298.0 842.0,290.0 C843.0,282.0 844.0,273.5 845.0,266.0 C846.0,258.5 847.0,251.3 848.0,245.0 C849.0,238.7 850.0,233.3 851.0,228.0 C852.0,222.7 853.0,218.3 854.0,213.0 C855.0,207.7 856.0,201.8 857.0,196.0 C858.0,190.2 859.0,183.0 860.0,178.0 C861.0,173.0 862.0,169.8 863.0,166.0 C864.0,162.2 865.0,158.5 866.0,155.0 C867.0,151.5 867.9,148.4 869.0,145.0 C870.1,141.6 871.4,137.5 872.4,134.5 C873.4,131.5 873.9,129.2 875.0,127.0 C876.1,124.8 878.3,122.4 879.0,121.5" stroke="#000" stroke-width="5.5" stroke-dasharray="5.5 8" stroke-linecap="butt"/>
</g>
<g>
<rect x="165" y="44" width="1230" height="5" fill="#5e5a5e"/>
<rect x="181.5" y="44" width="3" height="904" fill="#000"/>
<rect x="181.5" y="945" width="1214" height="3" fill="#000"/>
<rect x="1389.5" y="49" width="2.5" height="896" fill="#b8b8c0"/>
<rect x="1392" y="47" width="3" height="901" fill="#111"/>
<rect x="164.5" y="885.0" width="18" height="3" fill="#000"/>
<rect x="164.5" y="765.0" width="18" height="3" fill="#000"/>
<rect x="164.5" y="645.0" width="18" height="3" fill="#000"/>
<rect x="164.5" y="525.0" width="18" height="3" fill="#000"/>
<rect x="164.5" y="405.0" width="18" height="3" fill="#000"/>
<rect x="164.5" y="285.0" width="18" height="3" fill="#000"/>
<rect x="164.5" y="165.0" width="18" height="3" fill="#000"/>
<rect x="181.5" y="947" width="3" height="18" fill="#000"/>
<rect x="286.6" y="947" width="3" height="18" fill="#000"/>
<rect x="391.6" y="947" width="3" height="18" fill="#000"/>
<rect x="496.7" y="947" width="3" height="18" fill="#000"/>
<rect x="601.8" y="947" width="3" height="18" fill="#000"/>
<rect x="706.8" y="947" width="3" height="18" fill="#000"/>
<rect x="811.9" y="947" width="3" height="18" fill="#000"/>
<rect x="917.0" y="947" width="3" height="18" fill="#000"/>
<rect x="1022.1" y="947" width="3" height="18" fill="#000"/>
<rect x="1127.1" y="947" width="3" height="18" fill="#000"/>
<rect x="1232.2" y="947" width="3" height="18" fill="#000"/>
<rect x="1337.3" y="947" width="3" height="18" fill="#000"/>
</g>
<g font-family="Liberation Serif" font-size="34" fill="#000">
<text x="155.5" y="895.0" text-anchor="end" letter-spacing="0.8">0.0</text>
<text x="155.5" y="775.0" text-anchor="end" letter-spacing="0.8">0.2</text>
<text x="155.5" y="655.0" text-anchor="end" letter-spacing="0.8">0.4</text>
<text x="155.5" y="535.0" text-anchor="end" letter-spacing="0.8">0.6</text>
<text x="155.5" y="415.0" text-anchor="end" letter-spacing="0.8">0.8</text>
<text x="155.5" y="295.0" text-anchor="end" letter-spacing="0.8">1.0</text>
<text x="155.5" y="175.0" text-anchor="end" letter-spacing="0.8">1.2</text>
<text x="155.5" y="55.0" text-anchor="end" letter-spacing="0.8">1.4</text>
<text x="183.0" y="1002" text-anchor="middle">20</text>
<text x="288.1" y="1002" text-anchor="middle">40</text>
<text x="393.1" y="1002" text-anchor="middle">60</text>
<text x="498.2" y="1002" text-anchor="middle">80</text>
<text x="603.3" y="1002" text-anchor="middle">100</text>
<text x="708.3" y="1002" text-anchor="middle">120</text>
<text x="813.4" y="1002" text-anchor="middle">140</text>
<text x="918.5" y="1002" text-anchor="middle">160</text>
<text x="1023.6" y="1002" text-anchor="middle">180</text>
<text x="1128.6" y="1002" text-anchor="middle">200</text>
<text x="1233.7" y="1002" text-anchor="middle">220</text>
<text x="1338.8" y="1002" text-anchor="middle">240</text>
</g>
<text x="787" y="1084.5" text-anchor="middle" font-family="Liberation Serif" font-weight="bold" font-size="55">Temperature (°C)</text>
<text transform="translate(68,531.5) rotate(-90)" text-anchor="middle" font-family="Liberation Serif" font-weight="bold" font-size="55">Tan Delta</text>
<rect x="221.5" y="72.8" width="282" height="2.2" fill="#555058"/>
<rect x="221.5" y="74" width="2.2" height="402" fill="#b4b4bc"/>
<rect x="501" y="73" width="2.6" height="404" fill="#111"/>
<rect x="221.5" y="474.4" width="282" height="2.6" fill="#111"/>
<line x1="241" y1="102.2" x2="310" y2="102.2" stroke="#000" stroke-width="3.0" stroke-dasharray="9 3 3 3 3 3"/>
<path d="M272.0,97.2 L282.0,102.2 L272.0,107.2 Z" fill="#000"/>
<text transform="translate(318,111.7) scale(0.88,1)" x="0" y="0" font-family="Liberation Serif" font-weight="bold" font-size="30" letter-spacing="2.8">Control</text>
<line x1="241" y1="141.9" x2="310" y2="141.9" stroke="#ff2020" stroke-width="3.0" stroke-dasharray="3 6"/>
<path d="M277.0,135.9 L281.5,144.4 L272.5,144.4 Z" fill="#ff0000"/>
<text transform="translate(318,151.4) scale(0.88,1)" x="0" y="0" font-family="Liberation Serif" font-weight="bold" font-size="30" letter-spacing="2.8">20<tspan font-size="24" dy="-2" stroke-width="0">°</tspan><tspan dy="2" dx="1">C</tspan> 20days</text>
<line x1="241" y1="180.8" x2="310" y2="180.8" stroke="#9be0b8" stroke-width="3.0" stroke-dasharray="3 6"/>
<path d="M277.0,174.8 L281.5,183.3 L272.5,183.3 Z" fill="#00ee00"/>
<text transform="translate(318,190.3) scale(0.88,1)" x="0" y="0" font-family="Liberation Serif" font-weight="bold" font-size="30" letter-spacing="2.8">40<tspan font-size="24" dy="-2" stroke-width="0">°</tspan><tspan dy="2" dx="1">C</tspan> 20days</text>
<line x1="241" y1="219.4" x2="310" y2="219.4" stroke="#5a40ff" stroke-width="3.0" stroke-dasharray="3 6"/>
<path d="M273.0,219.4 h8 M277.0,215.4 v8" stroke="#0000ff" stroke-width="2.5"/>
<text transform="translate(318,228.9) scale(0.88,1)" x="0" y="0" font-family="Liberation Serif" font-weight="bold" font-size="30" letter-spacing="2.8">60<tspan font-size="24" dy="-2" stroke-width="0">°</tspan><tspan dy="2" dx="1">C</tspan> 20days</text>
<line x1="241" y1="256.4" x2="310" y2="256.4" stroke="#7ff0f0" stroke-width="3.0"/>
<path d="M273.0,255.4 h8 v4 h-8 Z M275.5,251.9 h3 v4 h-3 Z" fill="#00ffff"/>
<text transform="translate(318,265.9) scale(0.88,1)" x="0" y="0" font-family="Liberation Serif" font-weight="bold" font-size="30" letter-spacing="2.8">20<tspan font-size="24" dy="-2" stroke-width="0">°</tspan><tspan dy="2" dx="1">C</tspan> 40days</text>
<line x1="241" y1="296.2" x2="310" y2="296.2" stroke="#ff00ff" stroke-width="3.0"/>
<rect x="273.0" y="293.2" width="8" height="7" fill="#ff00ff"/>
<text transform="translate(318,305.7) scale(0.88,1)" x="0" y="0" font-family="Liberation Serif" font-weight="bold" font-size="30" letter-spacing="2.8">40<tspan font-size="24" dy="-2" stroke-width="0">°</tspan><tspan dy="2" dx="1">C</tspan> 40days</text>
<line x1="241" y1="336.1" x2="310" y2="336.1" stroke="#f0f000" stroke-width="3.0"/>
<path d="M277.0,331.1 v5" stroke="#ffff00" stroke-width="2.5"/>
<text transform="translate(318,345.6) scale(0.88,1)" x="0" y="0" font-family="Liberation Serif" font-weight="bold" font-size="30" letter-spacing="2.8">60<tspan font-size="24" dy="-2" stroke-width="0">°</tspan><tspan dy="2" dx="1">C</tspan> 40days</text>
<line x1="241" y1="373.1" x2="310" y2="373.1" stroke="#c0b070" stroke-width="2.5" stroke-dasharray="6 6"/>
<path d="M273.0,373.1 h8 M277.0,369.1 v8" stroke="#808000" stroke-width="2.5"/>
<text transform="translate(318,382.6) scale(0.88,1)" x="0" y="0" font-family="Liberation Serif" font-weight="bold" font-size="30" letter-spacing="2.8">20<tspan font-size="24" dy="-2" stroke-width="0">°</tspan><tspan dy="2" dx="1">C</tspan> 80days</text>
<line x1="241" y1="413.1" x2="310" y2="413.1" stroke="#d8d8f0" stroke-width="2.5" stroke-dasharray="6 6"/>
<path d="M277.0,407.1 L281.5,415.6 L272.5,415.6 Z" fill="#000080"/>
<text transform="translate(318,422.6) scale(0.88,1)" x="0" y="0" font-family="Liberation Serif" font-weight="bold" font-size="30" letter-spacing="2.8">40<tspan font-size="24" dy="-2" stroke-width="0">°</tspan><tspan dy="2" dx="1">C</tspan> 80days</text>
<line x1="241" y1="450.2" x2="310" y2="450.2" stroke="#d050d0" stroke-width="3.0" stroke-dasharray="6 6"/>
<path d="M273.0,450.2 h8 M277.0,446.2 v8" stroke="#800080" stroke-width="2.5"/>
<text transform="translate(318,459.7) scale(0.88,1)" x="0" y="0" font-family="Liberation Serif" font-weight="bold" font-size="30" letter-spacing="2.8">60<tspan font-size="24" dy="-2" stroke-width="0">°</tspan><tspan dy="2" dx="1">C</tspan> 80days</text>
<text x="761.5" y="1285" text-anchor="middle" font-family="Liberation Serif" font-size="76">(<tspan font-weight="bold">a</tspan>)</text>
</svg></body></html>
